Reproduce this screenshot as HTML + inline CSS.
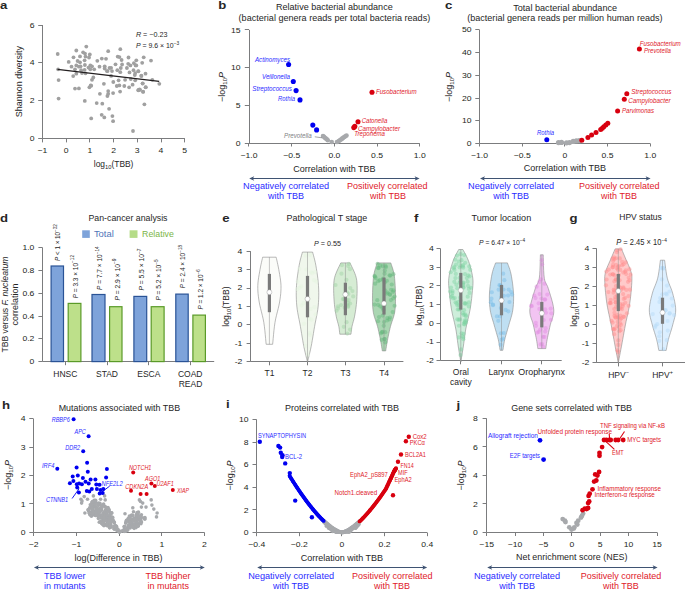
<!DOCTYPE html>
<html><head><meta charset="utf-8"><style>
html,body{margin:0;padding:0;background:#fff;}
svg{display:block;}
svg{font-family:"Liberation Sans", sans-serif;fill:#262626;}
</style></head><body>
<svg width="685" height="589" viewBox="0 0 685 589">
<rect x="0" y="0" width="685" height="589" fill="#fff"/>
<text x="0.00" y="9.30" font-size="11.2" font-weight="bold" textLength="7.35" lengthAdjust="spacingAndGlyphs">a</text>
<line x1="42.50" y1="25.00" x2="42.50" y2="138.20" stroke="#7b7c7e" stroke-width="1.0" />
<line x1="38.20" y1="138.50" x2="42.40" y2="138.50" stroke="#7b7c7e" stroke-width="1.0" />
<text x="34.60" y="140.80" font-size="7.5" text-anchor="end" fill="#231f20" textLength="4.80" lengthAdjust="spacingAndGlyphs">0</text>
<line x1="38.20" y1="100.50" x2="42.40" y2="100.50" stroke="#7b7c7e" stroke-width="1.0" />
<text x="34.60" y="103.07" font-size="7.5" text-anchor="end" fill="#231f20" textLength="4.80" lengthAdjust="spacingAndGlyphs">2</text>
<line x1="38.20" y1="62.50" x2="42.40" y2="62.50" stroke="#7b7c7e" stroke-width="1.0" />
<text x="34.60" y="65.33" font-size="7.5" text-anchor="end" fill="#231f20" textLength="4.80" lengthAdjust="spacingAndGlyphs">4</text>
<line x1="38.20" y1="25.50" x2="42.40" y2="25.50" stroke="#7b7c7e" stroke-width="1.0" />
<text x="34.60" y="27.60" font-size="7.5" text-anchor="end" fill="#231f20" textLength="4.80" lengthAdjust="spacingAndGlyphs">6</text>
<line x1="42.37" y1="138.50" x2="184.75" y2="138.50" stroke="#7b7c7e" stroke-width="1.0" />
<line x1="42.50" y1="138.20" x2="42.50" y2="142.40" stroke="#7b7c7e" stroke-width="1.0" />
<text x="42.37" y="152.60" font-size="7.5" text-anchor="middle" fill="#231f20" textLength="9.83" lengthAdjust="spacingAndGlyphs">−1</text>
<line x1="66.50" y1="138.20" x2="66.50" y2="142.40" stroke="#7b7c7e" stroke-width="1.0" />
<text x="66.10" y="152.60" font-size="7.5" text-anchor="middle" fill="#231f20" textLength="4.80" lengthAdjust="spacingAndGlyphs">0</text>
<line x1="89.50" y1="138.20" x2="89.50" y2="142.40" stroke="#7b7c7e" stroke-width="1.0" />
<text x="89.83" y="152.60" font-size="7.5" text-anchor="middle" fill="#231f20" textLength="4.80" lengthAdjust="spacingAndGlyphs">1</text>
<line x1="113.50" y1="138.20" x2="113.50" y2="142.40" stroke="#7b7c7e" stroke-width="1.0" />
<text x="113.56" y="152.60" font-size="7.5" text-anchor="middle" fill="#231f20" textLength="4.80" lengthAdjust="spacingAndGlyphs">2</text>
<line x1="137.50" y1="138.20" x2="137.50" y2="142.40" stroke="#7b7c7e" stroke-width="1.0" />
<text x="137.29" y="152.60" font-size="7.5" text-anchor="middle" fill="#231f20" textLength="4.80" lengthAdjust="spacingAndGlyphs">3</text>
<line x1="161.50" y1="138.20" x2="161.50" y2="142.40" stroke="#7b7c7e" stroke-width="1.0" />
<text x="161.02" y="152.60" font-size="7.5" text-anchor="middle" fill="#231f20" textLength="4.80" lengthAdjust="spacingAndGlyphs">4</text>
<line x1="184.50" y1="138.20" x2="184.50" y2="142.40" stroke="#7b7c7e" stroke-width="1.0" />
<text x="184.75" y="152.60" font-size="7.5" text-anchor="middle" fill="#231f20" textLength="4.80" lengthAdjust="spacingAndGlyphs">5</text>
<text x="93.80" y="167.40" font-size="9" textLength="39.60" lengthAdjust="spacingAndGlyphs">log<tspan font-size="6.2" dy="1.8">10</tspan><tspan dy="-1.8">(TBB)</tspan></text>
<text x="0" y="0" font-size="9" transform="translate(21.80,81.60) rotate(-90)" text-anchor="middle" textLength="71.30" lengthAdjust="spacingAndGlyphs">Shannon diversity</text>
<text x="135.90" y="36.80" font-size="7.2"><tspan font-style="italic">R</tspan> = −0.23</text>
<text x="135.90" y="47.70" font-size="7.2" textLength="43.30" lengthAdjust="spacingAndGlyphs"><tspan font-style="italic">P</tspan> = 9.6 × 10<tspan font-size="5" dy="-3">−3</tspan></text>
<circle cx="57.70" cy="54.00" r="1.9" fill="#a0a0a0" />
<circle cx="76.30" cy="50.50" r="1.9" fill="#a0a0a0" />
<circle cx="86.30" cy="46.60" r="1.9" fill="#a0a0a0" />
<circle cx="108.20" cy="51.20" r="1.9" fill="#a0a0a0" />
<circle cx="73.50" cy="57.30" r="1.9" fill="#a0a0a0" />
<circle cx="80.00" cy="56.40" r="1.9" fill="#a0a0a0" />
<circle cx="83.10" cy="52.30" r="1.9" fill="#a0a0a0" />
<circle cx="85.00" cy="53.60" r="1.9" fill="#a0a0a0" />
<circle cx="89.80" cy="54.40" r="1.9" fill="#a0a0a0" />
<circle cx="89.00" cy="57.50" r="1.9" fill="#a0a0a0" />
<circle cx="85.50" cy="56.60" r="1.9" fill="#a0a0a0" />
<circle cx="68.70" cy="61.90" r="1.9" fill="#a0a0a0" />
<circle cx="77.60" cy="61.00" r="1.9" fill="#a0a0a0" />
<circle cx="80.00" cy="62.30" r="1.9" fill="#a0a0a0" />
<circle cx="84.60" cy="60.30" r="1.9" fill="#a0a0a0" />
<circle cx="97.30" cy="60.80" r="1.9" fill="#a0a0a0" />
<circle cx="101.80" cy="58.60" r="1.9" fill="#a0a0a0" />
<circle cx="106.00" cy="58.80" r="1.9" fill="#a0a0a0" />
<circle cx="71.50" cy="66.70" r="1.9" fill="#a0a0a0" />
<circle cx="76.30" cy="65.40" r="1.9" fill="#a0a0a0" />
<circle cx="78.90" cy="66.70" r="1.9" fill="#a0a0a0" />
<circle cx="80.60" cy="66.30" r="1.9" fill="#a0a0a0" />
<circle cx="84.90" cy="65.00" r="1.9" fill="#a0a0a0" />
<circle cx="84.60" cy="69.80" r="1.9" fill="#a0a0a0" />
<circle cx="81.10" cy="70.20" r="1.9" fill="#a0a0a0" />
<circle cx="75.00" cy="69.30" r="1.9" fill="#a0a0a0" />
<circle cx="90.30" cy="65.40" r="1.9" fill="#a0a0a0" />
<circle cx="92.00" cy="66.30" r="1.9" fill="#a0a0a0" />
<circle cx="88.50" cy="67.60" r="1.9" fill="#a0a0a0" />
<circle cx="90.30" cy="69.30" r="1.9" fill="#a0a0a0" />
<circle cx="94.20" cy="69.30" r="1.9" fill="#a0a0a0" />
<circle cx="99.50" cy="66.70" r="1.9" fill="#a0a0a0" />
<circle cx="104.70" cy="66.30" r="1.9" fill="#a0a0a0" />
<circle cx="104.70" cy="68.50" r="1.9" fill="#a0a0a0" />
<circle cx="106.90" cy="71.10" r="1.9" fill="#a0a0a0" />
<circle cx="109.50" cy="68.00" r="1.9" fill="#a0a0a0" />
<circle cx="58.10" cy="69.30" r="1.9" fill="#a0a0a0" />
<circle cx="76.30" cy="73.70" r="1.9" fill="#a0a0a0" />
<circle cx="82.00" cy="73.10" r="1.9" fill="#a0a0a0" />
<circle cx="85.50" cy="73.30" r="1.9" fill="#a0a0a0" />
<circle cx="73.20" cy="76.10" r="1.9" fill="#a0a0a0" />
<circle cx="58.60" cy="80.10" r="1.9" fill="#a0a0a0" />
<circle cx="93.30" cy="77.50" r="1.9" fill="#a0a0a0" />
<circle cx="92.00" cy="79.80" r="1.9" fill="#a0a0a0" />
<circle cx="103.90" cy="83.80" r="1.9" fill="#a0a0a0" />
<circle cx="90.70" cy="85.50" r="1.9" fill="#a0a0a0" />
<circle cx="89.40" cy="87.30" r="1.9" fill="#a0a0a0" />
<circle cx="75.00" cy="88.60" r="1.9" fill="#a0a0a0" />
<circle cx="78.90" cy="88.40" r="1.9" fill="#a0a0a0" />
<circle cx="120.30" cy="49.20" r="1.9" fill="#a0a0a0" />
<circle cx="117.70" cy="56.60" r="1.9" fill="#a0a0a0" />
<circle cx="119.40" cy="57.10" r="1.9" fill="#a0a0a0" />
<circle cx="121.60" cy="60.00" r="1.9" fill="#a0a0a0" />
<circle cx="128.50" cy="57.50" r="1.9" fill="#a0a0a0" />
<circle cx="136.30" cy="60.30" r="1.9" fill="#a0a0a0" />
<circle cx="143.70" cy="57.30" r="1.9" fill="#a0a0a0" />
<circle cx="151.00" cy="60.60" r="1.9" fill="#a0a0a0" />
<circle cx="115.50" cy="64.30" r="1.9" fill="#a0a0a0" />
<circle cx="122.10" cy="64.50" r="1.9" fill="#a0a0a0" />
<circle cx="120.80" cy="68.00" r="1.9" fill="#a0a0a0" />
<circle cx="117.30" cy="70.20" r="1.9" fill="#a0a0a0" />
<circle cx="120.30" cy="72.20" r="1.9" fill="#a0a0a0" />
<circle cx="128.20" cy="63.80" r="1.9" fill="#a0a0a0" />
<circle cx="130.40" cy="65.40" r="1.9" fill="#a0a0a0" />
<circle cx="126.90" cy="68.00" r="1.9" fill="#a0a0a0" />
<circle cx="133.90" cy="63.20" r="1.9" fill="#a0a0a0" />
<circle cx="135.60" cy="65.40" r="1.9" fill="#a0a0a0" />
<circle cx="142.20" cy="62.80" r="1.9" fill="#a0a0a0" />
<circle cx="133.50" cy="70.20" r="1.9" fill="#a0a0a0" />
<circle cx="138.30" cy="71.10" r="1.9" fill="#a0a0a0" />
<circle cx="135.20" cy="73.10" r="1.9" fill="#a0a0a0" />
<circle cx="129.50" cy="72.40" r="1.9" fill="#a0a0a0" />
<circle cx="134.80" cy="75.00" r="1.9" fill="#a0a0a0" />
<circle cx="141.30" cy="75.70" r="1.9" fill="#a0a0a0" />
<circle cx="145.50" cy="73.70" r="1.9" fill="#a0a0a0" />
<circle cx="111.10" cy="67.80" r="1.9" fill="#a0a0a0" />
<circle cx="112.00" cy="71.10" r="1.9" fill="#a0a0a0" />
<circle cx="107.60" cy="71.10" r="1.9" fill="#a0a0a0" />
<circle cx="111.10" cy="75.90" r="1.9" fill="#a0a0a0" />
<circle cx="113.30" cy="82.00" r="1.9" fill="#a0a0a0" />
<circle cx="118.60" cy="80.30" r="1.9" fill="#a0a0a0" />
<circle cx="125.10" cy="79.80" r="1.9" fill="#a0a0a0" />
<circle cx="130.80" cy="79.00" r="1.9" fill="#a0a0a0" />
<circle cx="135.20" cy="80.30" r="1.9" fill="#a0a0a0" />
<circle cx="142.70" cy="83.30" r="1.9" fill="#a0a0a0" />
<circle cx="152.30" cy="79.80" r="1.9" fill="#a0a0a0" />
<circle cx="159.30" cy="83.80" r="1.9" fill="#a0a0a0" />
<circle cx="116.80" cy="86.00" r="1.9" fill="#a0a0a0" />
<circle cx="119.40" cy="85.40" r="1.9" fill="#a0a0a0" />
<circle cx="124.30" cy="86.00" r="1.9" fill="#a0a0a0" />
<circle cx="129.10" cy="87.30" r="1.9" fill="#a0a0a0" />
<circle cx="132.60" cy="84.70" r="1.9" fill="#a0a0a0" />
<circle cx="145.70" cy="87.30" r="1.9" fill="#a0a0a0" />
<circle cx="139.60" cy="89.50" r="1.9" fill="#a0a0a0" />
<circle cx="91.20" cy="85.70" r="1.9" fill="#a0a0a0" />
<circle cx="99.90" cy="93.80" r="1.9" fill="#a0a0a0" />
<circle cx="108.20" cy="91.10" r="1.9" fill="#a0a0a0" />
<circle cx="108.20" cy="93.80" r="1.9" fill="#a0a0a0" />
<circle cx="107.40" cy="96.00" r="1.9" fill="#a0a0a0" />
<circle cx="58.60" cy="98.60" r="1.9" fill="#a0a0a0" />
<circle cx="84.80" cy="100.90" r="1.9" fill="#a0a0a0" />
<circle cx="96.70" cy="103.10" r="1.9" fill="#a0a0a0" />
<circle cx="102.30" cy="103.70" r="1.9" fill="#a0a0a0" />
<circle cx="109.10" cy="108.80" r="1.9" fill="#a0a0a0" />
<circle cx="101.70" cy="114.80" r="1.9" fill="#a0a0a0" />
<circle cx="104.30" cy="117.40" r="1.9" fill="#a0a0a0" />
<circle cx="91.20" cy="118.40" r="1.9" fill="#a0a0a0" />
<circle cx="113.10" cy="93.10" r="1.9" fill="#a0a0a0" />
<circle cx="120.10" cy="91.60" r="1.9" fill="#a0a0a0" />
<circle cx="138.30" cy="90.30" r="1.9" fill="#a0a0a0" />
<circle cx="140.00" cy="89.80" r="1.9" fill="#a0a0a0" />
<circle cx="143.10" cy="91.80" r="1.9" fill="#a0a0a0" />
<circle cx="145.70" cy="87.20" r="1.9" fill="#a0a0a0" />
<circle cx="144.40" cy="104.30" r="1.9" fill="#a0a0a0" />
<circle cx="112.40" cy="116.10" r="1.9" fill="#a0a0a0" />
<circle cx="113.10" cy="121.20" r="1.9" fill="#a0a0a0" />
<circle cx="133.00" cy="131.00" r="1.9" fill="#a0a0a0" />
<circle cx="136.30" cy="65.40" r="1.9" fill="#a0a0a0" />
<circle cx="138.40" cy="71.30" r="1.9" fill="#a0a0a0" />
<circle cx="141.40" cy="76.00" r="1.9" fill="#a0a0a0" />
<circle cx="142.60" cy="83.60" r="1.9" fill="#a0a0a0" />
<circle cx="138.40" cy="90.00" r="1.9" fill="#a0a0a0" />
<circle cx="143.10" cy="91.70" r="1.9" fill="#a0a0a0" />
<line x1="57.50" y1="69.30" x2="159.20" y2="81.40" stroke="#231f20" stroke-width="1.25" />
<text x="218.30" y="9.10" font-size="11.2" font-weight="bold" textLength="8.07" lengthAdjust="spacingAndGlyphs">b</text>
<text x="276.00" y="10.40" font-size="9" textLength="116.70" lengthAdjust="spacingAndGlyphs">Relative bacterial abundance</text>
<text x="238.60" y="21.00" font-size="9" textLength="191.60" lengthAdjust="spacingAndGlyphs">(bacterial genera reads per total bacteria reads)</text>
<line x1="249.50" y1="29.90" x2="249.50" y2="143.50" stroke="#7b7c7e" stroke-width="1.0" />
<line x1="244.80" y1="143.50" x2="249.00" y2="143.50" stroke="#7b7c7e" stroke-width="1.0" />
<text x="240.60" y="146.10" font-size="7.5" text-anchor="end" fill="#231f20" textLength="4.80" lengthAdjust="spacingAndGlyphs">0</text>
<line x1="244.80" y1="105.50" x2="249.00" y2="105.50" stroke="#7b7c7e" stroke-width="1.0" />
<text x="240.60" y="108.23" font-size="7.5" text-anchor="end" fill="#231f20" textLength="4.80" lengthAdjust="spacingAndGlyphs">5</text>
<line x1="244.80" y1="67.50" x2="249.00" y2="67.50" stroke="#7b7c7e" stroke-width="1.0" />
<text x="240.60" y="70.37" font-size="7.5" text-anchor="end" fill="#231f20" textLength="9.59" lengthAdjust="spacingAndGlyphs">10</text>
<line x1="244.80" y1="29.50" x2="249.00" y2="29.50" stroke="#7b7c7e" stroke-width="1.0" />
<text x="240.60" y="32.50" font-size="7.5" text-anchor="end" fill="#231f20" textLength="9.59" lengthAdjust="spacingAndGlyphs">15</text>
<line x1="249.00" y1="143.50" x2="419.80" y2="143.50" stroke="#7b7c7e" stroke-width="1.0" />
<line x1="248.50" y1="143.50" x2="248.50" y2="146.50" stroke="#7b7c7e" stroke-width="1.0" />
<text x="249.00" y="157.80" font-size="7.5" text-anchor="middle" fill="#231f20" textLength="17.03" lengthAdjust="spacingAndGlyphs">−1.0</text>
<line x1="291.50" y1="143.50" x2="291.50" y2="146.50" stroke="#7b7c7e" stroke-width="1.0" />
<text x="291.70" y="157.80" font-size="7.5" text-anchor="middle" fill="#231f20" textLength="17.03" lengthAdjust="spacingAndGlyphs">−0.5</text>
<line x1="334.50" y1="143.50" x2="334.50" y2="146.50" stroke="#7b7c7e" stroke-width="1.0" />
<text x="334.40" y="157.80" font-size="7.5" text-anchor="middle" fill="#231f20" textLength="11.99" lengthAdjust="spacingAndGlyphs">0.0</text>
<line x1="377.50" y1="143.50" x2="377.50" y2="146.50" stroke="#7b7c7e" stroke-width="1.0" />
<text x="377.10" y="157.80" font-size="7.5" text-anchor="middle" fill="#231f20" textLength="11.99" lengthAdjust="spacingAndGlyphs">0.5</text>
<line x1="419.50" y1="143.50" x2="419.50" y2="146.50" stroke="#7b7c7e" stroke-width="1.0" />
<text x="419.80" y="157.80" font-size="7.5" text-anchor="middle" fill="#231f20" textLength="11.99" lengthAdjust="spacingAndGlyphs">1.0</text>
<text x="334.40" y="171.60" font-size="9" text-anchor="middle">Correlation with TBB</text>
<text x="0" y="0" font-size="9" transform="translate(225.30,87.00) rotate(-90)" text-anchor="middle">−log<tspan font-size="6.2" dy="1.8">10</tspan><tspan dy="-1.8" font-style="italic">P</tspan></text>
<line x1="252.20" y1="178.50" x2="416.60" y2="178.50" stroke="#3f5373" stroke-width="1.15" />
<path d="M249.20,178.50 L254.20,176.30 L252.95,178.50 L254.20,180.70 Z" fill="#3f5373" />
<path d="M419.60,178.50 L414.60,176.30 L415.85,178.50 L414.60,180.70 Z" fill="#3f5373" />
<text x="286.10" y="189.00" font-size="9" text-anchor="middle" fill="#2b2bff" textLength="86.00" lengthAdjust="spacingAndGlyphs">Negatively correlated</text>
<text x="286.00" y="199.00" font-size="9" text-anchor="middle" fill="#2b2bff">with TBB</text>
<text x="387.20" y="189.00" font-size="9" text-anchor="middle" fill="#e0202a">Positively correlated</text>
<text x="388.00" y="199.00" font-size="9" text-anchor="middle" fill="#e0202a">with TBB</text>
<circle cx="323.00" cy="136.00" r="2.3" fill="#a7a9ac" />
<circle cx="323.96" cy="136.84" r="2.3" fill="#a7a9ac" />
<circle cx="324.92" cy="137.68" r="2.3" fill="#a7a9ac" />
<circle cx="325.88" cy="138.52" r="2.3" fill="#a7a9ac" />
<circle cx="326.84" cy="139.36" r="2.3" fill="#a7a9ac" />
<circle cx="327.80" cy="140.20" r="2.3" fill="#a7a9ac" />
<circle cx="331.70" cy="142.00" r="2.3" fill="#a7a9ac" />
<circle cx="337.00" cy="142.00" r="2.3" fill="#a7a9ac" />
<circle cx="338.80" cy="141.00" r="2.3" fill="#a7a9ac" />
<circle cx="339.90" cy="140.21" r="2.3" fill="#a7a9ac" />
<circle cx="341.00" cy="139.43" r="2.3" fill="#a7a9ac" />
<circle cx="342.10" cy="138.64" r="2.3" fill="#a7a9ac" />
<circle cx="343.20" cy="137.86" r="2.3" fill="#a7a9ac" />
<circle cx="344.30" cy="137.07" r="2.3" fill="#a7a9ac" />
<circle cx="345.40" cy="136.29" r="2.3" fill="#a7a9ac" />
<circle cx="346.50" cy="135.50" r="2.3" fill="#a7a9ac" />
<line x1="314.80" y1="136.80" x2="322.00" y2="137.80" stroke="#808080" stroke-width="0.7" />
<text x="284.00" y="138.00" font-size="6.3" fill="#808285" font-style="italic" textLength="27.70" lengthAdjust="spacingAndGlyphs">Prevotella</text>
<circle cx="288.60" cy="64.50" r="2.55" fill="#0000f0" />
<circle cx="293.30" cy="81.50" r="2.55" fill="#0000f0" />
<circle cx="296.10" cy="90.60" r="2.55" fill="#0000f0" />
<circle cx="300.00" cy="99.90" r="2.55" fill="#0000f0" />
<circle cx="312.80" cy="125.10" r="2.55" fill="#0000f0" />
<circle cx="316.60" cy="129.90" r="2.55" fill="#0000f0" />
<text x="255.00" y="61.80" font-size="6.3" fill="#2b2bff" font-style="italic" textLength="35.00" lengthAdjust="spacingAndGlyphs">Actinomyces</text>
<text x="262.00" y="78.60" font-size="6.3" fill="#2b2bff" font-style="italic" textLength="28.00" lengthAdjust="spacingAndGlyphs">Veillonella</text>
<text x="252.30" y="91.20" font-size="6.3" fill="#2b2bff" font-style="italic" textLength="39.70" lengthAdjust="spacingAndGlyphs">Streptococcus</text>
<text x="278.00" y="100.60" font-size="6.3" fill="#2b2bff" font-style="italic" textLength="17.00" lengthAdjust="spacingAndGlyphs">Rothia</text>
<circle cx="372.00" cy="92.20" r="2.55" fill="#d8000f" />
<circle cx="358.00" cy="121.70" r="2.55" fill="#d8000f" />
<circle cx="354.80" cy="126.40" r="2.55" fill="#d8000f" />
<circle cx="353.80" cy="127.60" r="2.55" fill="#d8000f" />
<text x="375.90" y="94.40" font-size="6.3" fill="#e0202a" font-style="italic" textLength="40.80" lengthAdjust="spacingAndGlyphs">Fusobacterium</text>
<text x="361.70" y="122.60" font-size="6.3" fill="#e0202a" font-style="italic" textLength="25.60" lengthAdjust="spacingAndGlyphs">Catonella</text>
<text x="358.00" y="130.50" font-size="6.3" fill="#e0202a" font-style="italic" textLength="42.00" lengthAdjust="spacingAndGlyphs">Campylobacter</text>
<text x="354.30" y="136.40" font-size="6.3" fill="#e0202a" font-style="italic" textLength="30.70" lengthAdjust="spacingAndGlyphs">Treponema</text>
<text x="445.00" y="9.20" font-size="11.2" font-weight="bold" textLength="7.35" lengthAdjust="spacingAndGlyphs">c</text>
<text x="513.20" y="10.90" font-size="9" textLength="103.90" lengthAdjust="spacingAndGlyphs">Total bacterial abundance</text>
<text x="467.20" y="21.40" font-size="9" textLength="195.40" lengthAdjust="spacingAndGlyphs">(bacterial genera reads per million human reads)</text>
<line x1="479.50" y1="29.80" x2="479.50" y2="143.50" stroke="#7b7c7e" stroke-width="1.0" />
<line x1="475.30" y1="143.50" x2="479.50" y2="143.50" stroke="#7b7c7e" stroke-width="1.0" />
<text x="471.60" y="146.10" font-size="7.5" text-anchor="end" fill="#231f20" textLength="4.80" lengthAdjust="spacingAndGlyphs">0</text>
<line x1="475.30" y1="120.50" x2="479.50" y2="120.50" stroke="#7b7c7e" stroke-width="1.0" />
<text x="471.60" y="123.36" font-size="7.5" text-anchor="end" fill="#231f20" textLength="9.59" lengthAdjust="spacingAndGlyphs">10</text>
<line x1="475.30" y1="98.50" x2="479.50" y2="98.50" stroke="#7b7c7e" stroke-width="1.0" />
<text x="471.60" y="100.62" font-size="7.5" text-anchor="end" fill="#231f20" textLength="9.59" lengthAdjust="spacingAndGlyphs">20</text>
<line x1="475.30" y1="75.50" x2="479.50" y2="75.50" stroke="#7b7c7e" stroke-width="1.0" />
<text x="471.60" y="77.88" font-size="7.5" text-anchor="end" fill="#231f20" textLength="9.59" lengthAdjust="spacingAndGlyphs">30</text>
<line x1="475.30" y1="52.50" x2="479.50" y2="52.50" stroke="#7b7c7e" stroke-width="1.0" />
<text x="471.60" y="55.14" font-size="7.5" text-anchor="end" fill="#231f20" textLength="9.59" lengthAdjust="spacingAndGlyphs">40</text>
<line x1="475.30" y1="29.50" x2="479.50" y2="29.50" stroke="#7b7c7e" stroke-width="1.0" />
<text x="471.60" y="32.40" font-size="7.5" text-anchor="end" fill="#231f20" textLength="9.59" lengthAdjust="spacingAndGlyphs">50</text>
<line x1="479.55" y1="143.50" x2="650.25" y2="143.50" stroke="#7b7c7e" stroke-width="1.0" />
<line x1="479.50" y1="143.50" x2="479.50" y2="146.50" stroke="#7b7c7e" stroke-width="1.0" />
<text x="479.55" y="157.80" font-size="7.5" text-anchor="middle" fill="#231f20" textLength="17.03" lengthAdjust="spacingAndGlyphs">−1.0</text>
<line x1="522.50" y1="143.50" x2="522.50" y2="146.50" stroke="#7b7c7e" stroke-width="1.0" />
<text x="522.23" y="157.80" font-size="7.5" text-anchor="middle" fill="#231f20" textLength="17.03" lengthAdjust="spacingAndGlyphs">−0.5</text>
<line x1="564.50" y1="143.50" x2="564.50" y2="146.50" stroke="#7b7c7e" stroke-width="1.0" />
<text x="564.90" y="157.80" font-size="7.5" text-anchor="middle" fill="#231f20" textLength="4.80" lengthAdjust="spacingAndGlyphs">0</text>
<line x1="607.50" y1="143.50" x2="607.50" y2="146.50" stroke="#7b7c7e" stroke-width="1.0" />
<text x="607.57" y="157.80" font-size="7.5" text-anchor="middle" fill="#231f20" textLength="11.99" lengthAdjust="spacingAndGlyphs">0.5</text>
<line x1="650.50" y1="143.50" x2="650.50" y2="146.50" stroke="#7b7c7e" stroke-width="1.0" />
<text x="650.25" y="157.80" font-size="7.5" text-anchor="middle" fill="#231f20" textLength="11.99" lengthAdjust="spacingAndGlyphs">1.0</text>
<text x="564.90" y="171.00" font-size="9" text-anchor="middle">Correlation with TBB</text>
<text x="0" y="0" font-size="9" transform="translate(451.90,87.00) rotate(-90)" text-anchor="middle">−log<tspan font-size="6.2" dy="1.8">10</tspan><tspan dy="-1.8" font-style="italic">P</tspan></text>
<line x1="483.00" y1="178.50" x2="647.60" y2="178.50" stroke="#3f5373" stroke-width="1.15" />
<path d="M480.00,178.50 L485.00,176.30 L483.75,178.50 L485.00,180.70 Z" fill="#3f5373" />
<path d="M650.60,178.50 L645.60,176.30 L646.85,178.50 L645.60,180.70 Z" fill="#3f5373" />
<text x="511.10" y="189.00" font-size="9" text-anchor="middle" fill="#2b2bff" textLength="86.00" lengthAdjust="spacingAndGlyphs">Negatively correlated</text>
<text x="511.10" y="199.00" font-size="9" text-anchor="middle" fill="#2b2bff">with TBB</text>
<text x="619.20" y="189.00" font-size="9" text-anchor="middle" fill="#e0202a">Positively correlated</text>
<text x="619.00" y="199.00" font-size="9" text-anchor="middle" fill="#e0202a">with TBB</text>
<circle cx="558.50" cy="142.60" r="2.6" fill="#a7a9ac" />
<circle cx="561.50" cy="142.40" r="2.6" fill="#a7a9ac" />
<circle cx="566.50" cy="142.80" r="2.6" fill="#a7a9ac" />
<circle cx="569.50" cy="142.60" r="2.6" fill="#a7a9ac" />
<circle cx="573.20" cy="141.40" r="2.6" fill="#a7a9ac" />
<circle cx="576.30" cy="140.90" r="2.6" fill="#a7a9ac" />
<circle cx="579.30" cy="140.70" r="2.6" fill="#a7a9ac" />
<circle cx="546.80" cy="139.80" r="2.5" fill="#0000f0" />
<text x="537.00" y="134.80" font-size="6.3" fill="#2b2bff" font-style="italic" textLength="17.00" lengthAdjust="spacingAndGlyphs">Rothia</text>
<circle cx="581.80" cy="140.30" r="2.5" fill="#d8000f" />
<circle cx="587.90" cy="137.60" r="2.5" fill="#d8000f" />
<circle cx="591.60" cy="135.00" r="2.5" fill="#d8000f" />
<circle cx="596.00" cy="132.50" r="2.5" fill="#d8000f" />
<circle cx="600.70" cy="129.50" r="2.5" fill="#d8000f" />
<circle cx="602.30" cy="128.20" r="2.5" fill="#d8000f" />
<circle cx="603.80" cy="126.80" r="2.5" fill="#d8000f" />
<circle cx="605.80" cy="125.00" r="2.5" fill="#d8000f" />
<circle cx="607.80" cy="123.20" r="2.5" fill="#d8000f" />
<circle cx="617.60" cy="111.00" r="2.5" fill="#d8000f" />
<circle cx="624.30" cy="99.30" r="2.5" fill="#d8000f" />
<circle cx="626.80" cy="93.80" r="2.5" fill="#d8000f" />
<circle cx="639.40" cy="48.90" r="2.5" fill="#d8000f" />
<text x="622.00" y="113.30" font-size="6.3" fill="#e0202a" font-style="italic" textLength="32.00" lengthAdjust="spacingAndGlyphs">Parvimonas</text>
<text x="628.20" y="102.60" font-size="6.3" fill="#e0202a" font-style="italic" textLength="42.30" lengthAdjust="spacingAndGlyphs">Campylobacter</text>
<text x="631.30" y="94.40" font-size="6.3" fill="#e0202a" font-style="italic" textLength="40.10" lengthAdjust="spacingAndGlyphs">Streptococcus</text>
<text x="639.70" y="45.60" font-size="6.3" fill="#e0202a" font-style="italic" textLength="41.10" lengthAdjust="spacingAndGlyphs">Fusobacterium</text>
<text x="644.00" y="52.70" font-size="6.3" fill="#e0202a" font-style="italic" textLength="27.00" lengthAdjust="spacingAndGlyphs">Prevotella</text>
<text x="0.00" y="221.90" font-size="11.2" font-weight="bold" textLength="8.07" lengthAdjust="spacingAndGlyphs">d</text>
<text x="88.50" y="220.70" font-size="9" textLength="79.00" lengthAdjust="spacingAndGlyphs">Pan-cancer analysis</text>
<rect x="82.20" y="230.30" width="7.60" height="7.60" fill="#7ea3da" />
<text x="93.90" y="237.30" font-size="9" fill="#4f74b8" textLength="19.90" lengthAdjust="spacingAndGlyphs">Total</text>
<rect x="129.60" y="230.30" width="7.90" height="7.60" fill="#b5dc88" />
<text x="142.10" y="237.30" font-size="9" fill="#7bb547" textLength="31.80" lengthAdjust="spacingAndGlyphs">Relative</text>
<line x1="42.50" y1="247.70" x2="42.50" y2="361.60" stroke="#7b7c7e" stroke-width="1.0" />
<line x1="38.40" y1="361.50" x2="42.60" y2="361.50" stroke="#7b7c7e" stroke-width="1.0" />
<text x="34.40" y="364.20" font-size="7.5" text-anchor="end" fill="#231f20" textLength="4.80" lengthAdjust="spacingAndGlyphs">0</text>
<line x1="38.40" y1="338.50" x2="42.60" y2="338.50" stroke="#7b7c7e" stroke-width="1.0" />
<text x="34.40" y="341.42" font-size="7.5" text-anchor="end" fill="#231f20" textLength="11.99" lengthAdjust="spacingAndGlyphs">0.2</text>
<line x1="38.40" y1="316.50" x2="42.60" y2="316.50" stroke="#7b7c7e" stroke-width="1.0" />
<text x="34.40" y="318.64" font-size="7.5" text-anchor="end" fill="#231f20" textLength="11.99" lengthAdjust="spacingAndGlyphs">0.4</text>
<line x1="38.40" y1="293.50" x2="42.60" y2="293.50" stroke="#7b7c7e" stroke-width="1.0" />
<text x="34.40" y="295.86" font-size="7.5" text-anchor="end" fill="#231f20" textLength="11.99" lengthAdjust="spacingAndGlyphs">0.6</text>
<line x1="38.40" y1="270.50" x2="42.60" y2="270.50" stroke="#7b7c7e" stroke-width="1.0" />
<text x="34.40" y="273.08" font-size="7.5" text-anchor="end" fill="#231f20" textLength="11.99" lengthAdjust="spacingAndGlyphs">0.8</text>
<line x1="38.40" y1="247.50" x2="42.60" y2="247.50" stroke="#7b7c7e" stroke-width="1.0" />
<text x="34.40" y="250.30" font-size="7.5" text-anchor="end" fill="#231f20" textLength="11.99" lengthAdjust="spacingAndGlyphs">1.0</text>
<line x1="42.60" y1="361.50" x2="214.20" y2="361.50" stroke="#7b7c7e" stroke-width="1.0" />
<line x1="65.50" y1="361.60" x2="65.50" y2="365.20" stroke="#7b7c7e" stroke-width="1.0" />
<line x1="107.50" y1="361.60" x2="107.50" y2="365.20" stroke="#7b7c7e" stroke-width="1.0" />
<line x1="148.50" y1="361.60" x2="148.50" y2="365.20" stroke="#7b7c7e" stroke-width="1.0" />
<line x1="190.50" y1="361.60" x2="190.50" y2="365.20" stroke="#7b7c7e" stroke-width="1.0" />
<rect x="51.10" y="266.00" width="12.40" height="95.60" fill="#7ea3da" stroke="#2a5396" stroke-width="1.2" />
<rect x="68.20" y="303.40" width="12.70" height="58.20" fill="#bde08a" stroke="#5a9a28" stroke-width="1.2" />
<rect x="92.00" y="294.50" width="13.00" height="67.10" fill="#7ea3da" stroke="#2a5396" stroke-width="1.2" />
<rect x="109.60" y="306.70" width="12.40" height="54.90" fill="#bde08a" stroke="#5a9a28" stroke-width="1.2" />
<rect x="133.90" y="296.40" width="12.80" height="65.20" fill="#7ea3da" stroke="#2a5396" stroke-width="1.2" />
<rect x="151.20" y="306.70" width="12.90" height="54.90" fill="#bde08a" stroke="#5a9a28" stroke-width="1.2" />
<rect x="175.80" y="294.10" width="12.40" height="67.50" fill="#7ea3da" stroke="#2a5396" stroke-width="1.2" />
<rect x="192.90" y="315.10" width="12.50" height="46.50" fill="#bde08a" stroke="#5a9a28" stroke-width="1.2" />
<text x="65.30" y="377.10" font-size="8.5" text-anchor="middle">HNSC</text>
<text x="107.00" y="377.10" font-size="8.5" text-anchor="middle">STAD</text>
<text x="148.80" y="377.10" font-size="8.5" text-anchor="middle">ESCA</text>
<text x="190.20" y="377.10" font-size="8.5" text-anchor="middle">COAD</text>
<text x="190.50" y="386.60" font-size="8.5" text-anchor="middle">READ</text>
<text x="0" y="0" font-size="9" transform="translate(7.60,304.60) rotate(-90)" text-anchor="middle" textLength="96.00" lengthAdjust="spacingAndGlyphs">TBB versus <tspan font-style="italic">F. nucleatum</tspan></text>
<text x="0" y="0" font-size="9" transform="translate(18.10,304.60) rotate(-90)" text-anchor="middle">correlation</text>
<text x="0" y="0" font-size="6.4" transform="translate(59.90,260.90) rotate(-90)" textLength="36.70" lengthAdjust="spacingAndGlyphs"><tspan font-style="italic">P</tspan> < 1 × 10<tspan font-size="4.6" dy="-3.2">−32</tspan></text>
<text x="0" y="0" font-size="6.4" transform="translate(77.50,298.30) rotate(-90)" textLength="43.30" lengthAdjust="spacingAndGlyphs"><tspan font-style="italic">P</tspan> = 3.3 × 10<tspan font-size="4.6" dy="-3.2">−12</tspan></text>
<text x="0" y="0" font-size="6.4" transform="translate(101.90,289.90) rotate(-90)" textLength="43.60" lengthAdjust="spacingAndGlyphs"><tspan font-style="italic">P</tspan> = 7.7 × 10<tspan font-size="4.6" dy="-3.2">−14</tspan></text>
<text x="0" y="0" font-size="6.4" transform="translate(119.50,300.60) rotate(-90)" textLength="42.00" lengthAdjust="spacingAndGlyphs"><tspan font-style="italic">P</tspan> = 2.9 × 10<tspan font-size="4.6" dy="-3.2">−9</tspan></text>
<text x="0" y="0" font-size="6.4" transform="translate(143.70,290.60) rotate(-90)" textLength="42.00" lengthAdjust="spacingAndGlyphs"><tspan font-style="italic">P</tspan> = 5.5 × 10<tspan font-size="4.6" dy="-3.2">−7</tspan></text>
<text x="0" y="0" font-size="6.4" transform="translate(161.30,300.60) rotate(-90)" textLength="41.30" lengthAdjust="spacingAndGlyphs"><tspan font-style="italic">P</tspan> = 5.2 × 10<tspan font-size="4.6" dy="-3.2">−5</tspan></text>
<text x="0" y="0" font-size="6.4" transform="translate(185.00,288.30) rotate(-90)" textLength="43.50" lengthAdjust="spacingAndGlyphs"><tspan font-style="italic">P</tspan> = 2.4 × 10<tspan font-size="4.6" dy="-3.2">−18</tspan></text>
<text x="0" y="0" font-size="6.4" transform="translate(203.30,309.50) rotate(-90)" textLength="40.30" lengthAdjust="spacingAndGlyphs"><tspan font-style="italic">P</tspan> = 1.2 × 10<tspan font-size="4.6" dy="-3.2">−6</tspan></text>
<text x="222.30" y="222.00" font-size="11.2" font-weight="bold" textLength="7.35" lengthAdjust="spacingAndGlyphs">e</text>
<text x="286.60" y="220.60" font-size="9" textLength="80.70" lengthAdjust="spacingAndGlyphs">Pathological T stage</text>
<text x="314.00" y="246.40" font-size="7.5" textLength="27.00" lengthAdjust="spacingAndGlyphs"><tspan font-style="italic">P</tspan> = 0.55</text>
<line x1="250.50" y1="251.20" x2="250.50" y2="361.70" stroke="#7b7c7e" stroke-width="1.0" />
<line x1="246.60" y1="361.50" x2="250.60" y2="361.50" stroke="#7b7c7e" stroke-width="1.0" />
<text x="242.40" y="364.00" font-size="7.5" text-anchor="end" fill="#231f20" textLength="7.67" lengthAdjust="spacingAndGlyphs">-2</text>
<line x1="246.60" y1="343.50" x2="250.60" y2="343.50" stroke="#7b7c7e" stroke-width="1.0" />
<text x="242.40" y="345.58" font-size="7.5" text-anchor="end" fill="#231f20" textLength="7.67" lengthAdjust="spacingAndGlyphs">-1</text>
<line x1="246.60" y1="324.50" x2="250.60" y2="324.50" stroke="#7b7c7e" stroke-width="1.0" />
<text x="242.40" y="327.17" font-size="7.5" text-anchor="end" fill="#231f20" textLength="4.80" lengthAdjust="spacingAndGlyphs">0</text>
<line x1="246.60" y1="306.50" x2="250.60" y2="306.50" stroke="#7b7c7e" stroke-width="1.0" />
<text x="242.40" y="308.75" font-size="7.5" text-anchor="end" fill="#231f20" textLength="4.80" lengthAdjust="spacingAndGlyphs">1</text>
<line x1="246.60" y1="288.50" x2="250.60" y2="288.50" stroke="#7b7c7e" stroke-width="1.0" />
<text x="242.40" y="290.33" font-size="7.5" text-anchor="end" fill="#231f20" textLength="4.80" lengthAdjust="spacingAndGlyphs">2</text>
<line x1="246.60" y1="269.50" x2="250.60" y2="269.50" stroke="#7b7c7e" stroke-width="1.0" />
<text x="242.40" y="271.92" font-size="7.5" text-anchor="end" fill="#231f20" textLength="4.80" lengthAdjust="spacingAndGlyphs">3</text>
<line x1="246.60" y1="251.50" x2="250.60" y2="251.50" stroke="#7b7c7e" stroke-width="1.0" />
<text x="242.40" y="253.50" font-size="7.5" text-anchor="end" fill="#231f20" textLength="4.80" lengthAdjust="spacingAndGlyphs">4</text>
<line x1="250.60" y1="361.50" x2="403.40" y2="361.50" stroke="#7b7c7e" stroke-width="1.0" />
<line x1="269.50" y1="361.70" x2="269.50" y2="365.30" stroke="#7b7c7e" stroke-width="1.0" />
<line x1="307.50" y1="361.70" x2="307.50" y2="365.30" stroke="#7b7c7e" stroke-width="1.0" />
<line x1="345.50" y1="361.70" x2="345.50" y2="365.30" stroke="#7b7c7e" stroke-width="1.0" />
<line x1="384.50" y1="361.70" x2="384.50" y2="365.30" stroke="#7b7c7e" stroke-width="1.0" />
<text x="0" y="0" font-size="9" transform="translate(229.40,306.60) rotate(-90)" text-anchor="middle" textLength="40.20" lengthAdjust="spacingAndGlyphs">log<tspan font-size="6.2" dy="1.8">10</tspan><tspan dy="-1.8">(TBB)</tspan></text>
<text x="269.40" y="376.00" font-size="8.5" text-anchor="middle">T1</text>
<text x="307.50" y="376.00" font-size="8.5" text-anchor="middle">T2</text>
<text x="345.40" y="376.00" font-size="8.5" text-anchor="middle">T3</text>
<text x="384.10" y="376.00" font-size="8.5" text-anchor="middle">T4</text>
<path d="M276.15,257.20 L276.44,258.48 L276.84,260.21 L277.31,262.28 L277.81,264.58 L278.31,266.99 L278.75,269.40 L279.19,271.88 L279.66,274.53 L280.12,277.29 L280.53,280.11 L280.84,282.94 L281.00,285.70 L281.01,288.37 L280.92,290.98 L280.73,293.59 L280.44,296.26 L280.06,299.05 L279.60,302.00 L278.99,305.15 L278.22,308.44 L277.36,311.85 L276.49,315.34 L275.67,318.87 L275.00,322.40 L274.45,326.22 L273.96,330.40 L273.54,334.62 L273.18,338.57 L272.88,341.90 L272.65,344.30 L266.15,344.30 L265.92,341.90 L265.62,338.57 L265.26,334.62 L264.84,330.40 L264.35,326.22 L263.80,322.40 L263.13,318.87 L262.31,315.34 L261.44,311.85 L260.58,308.44 L259.81,305.15 L259.20,302.00 L258.74,299.05 L258.36,296.26 L258.07,293.59 L257.88,290.98 L257.79,288.37 L257.80,285.70 L257.96,282.94 L258.27,280.11 L258.67,277.29 L259.14,274.53 L259.61,271.88 L260.05,269.40 L260.49,266.99 L260.99,264.58 L261.49,262.28 L261.96,260.21 L262.36,258.48 L262.65,257.20 Z" fill="#fbfcf9" stroke="#8c8c8c" stroke-width="0.6" />
<line x1="269.40" y1="257.20" x2="269.40" y2="344.30" stroke="#8c8c8c" stroke-width="0.5" />
<rect x="267.80" y="273.90" width="3.20" height="38.30" fill="#7a7a7a" />
<circle cx="269.40" cy="292.20" r="2.5" fill="#ffffff" stroke="#8a8a8a" stroke-width="0.4"/>
<path d="M312.60,252.10 L312.96,253.47 L313.46,255.29 L314.06,257.48 L314.69,259.96 L315.31,262.62 L315.85,265.40 L316.36,268.38 L316.89,271.65 L317.40,275.11 L317.86,278.67 L318.24,282.24 L318.50,285.70 L318.66,289.08 L318.74,292.46 L318.74,295.84 L318.65,299.23 L318.48,302.61 L318.20,306.00 L317.79,309.39 L317.24,312.79 L316.60,316.19 L315.91,319.60 L315.23,323.00 L314.60,326.40 L314.01,329.86 L313.43,333.39 L312.85,336.93 L312.27,340.39 L311.69,343.70 L311.10,346.80 L310.46,349.81 L309.77,352.81 L309.08,355.68 L308.44,358.25 L307.89,360.41 L307.50,362.00 L307.50,362.00 L307.11,360.41 L306.56,358.25 L305.92,355.68 L305.23,352.81 L304.54,349.81 L303.90,346.80 L303.31,343.70 L302.73,340.39 L302.15,336.93 L301.57,333.39 L300.99,329.86 L300.40,326.40 L299.77,323.00 L299.09,319.60 L298.40,316.19 L297.76,312.79 L297.21,309.39 L296.80,306.00 L296.52,302.61 L296.35,299.23 L296.26,295.84 L296.26,292.46 L296.34,289.08 L296.50,285.70 L296.76,282.24 L297.14,278.67 L297.60,275.11 L298.11,271.65 L298.64,268.38 L299.15,265.40 L299.69,262.62 L300.31,259.96 L300.94,257.48 L301.54,255.29 L302.04,253.47 L302.40,252.10 Z" fill="#f0f7ec" stroke="#8c8c8c" stroke-width="0.6" />
<circle cx="309.54" cy="332.98" r="2.1" fill="#e4f3df" fill-opacity="0.45"/>
<circle cx="309.34" cy="318.69" r="2.1" fill="#e4f3df" fill-opacity="0.45"/>
<circle cx="306.25" cy="269.51" r="2.1" fill="#e4f3df" fill-opacity="0.45"/>
<circle cx="297.60" cy="281.58" r="2.1" fill="#e4f3df" fill-opacity="0.45"/>
<circle cx="303.53" cy="303.19" r="2.1" fill="#e4f3df" fill-opacity="0.45"/>
<circle cx="299.43" cy="287.83" r="2.1" fill="#e4f3df" fill-opacity="0.45"/>
<circle cx="314.94" cy="272.08" r="2.1" fill="#e4f3df" fill-opacity="0.45"/>
<circle cx="309.94" cy="334.97" r="2.1" fill="#e4f3df" fill-opacity="0.45"/>
<circle cx="314.50" cy="307.14" r="2.1" fill="#e4f3df" fill-opacity="0.45"/>
<circle cx="315.42" cy="314.49" r="2.1" fill="#e4f3df" fill-opacity="0.45"/>
<circle cx="301.53" cy="305.58" r="2.1" fill="#e4f3df" fill-opacity="0.45"/>
<circle cx="316.27" cy="281.57" r="2.1" fill="#e4f3df" fill-opacity="0.45"/>
<circle cx="310.63" cy="309.00" r="2.1" fill="#e4f3df" fill-opacity="0.45"/>
<circle cx="301.05" cy="286.37" r="2.1" fill="#e4f3df" fill-opacity="0.45"/>
<circle cx="307.94" cy="354.76" r="2.1" fill="#e4f3df" fill-opacity="0.45"/>
<circle cx="312.20" cy="273.14" r="2.1" fill="#e4f3df" fill-opacity="0.45"/>
<circle cx="304.06" cy="323.85" r="2.1" fill="#e4f3df" fill-opacity="0.45"/>
<circle cx="305.58" cy="345.95" r="2.1" fill="#e4f3df" fill-opacity="0.45"/>
<circle cx="305.83" cy="255.60" r="2.1" fill="#e4f3df" fill-opacity="0.45"/>
<circle cx="310.19" cy="254.89" r="2.1" fill="#e4f3df" fill-opacity="0.45"/>
<circle cx="314.09" cy="280.20" r="2.1" fill="#e4f3df" fill-opacity="0.45"/>
<circle cx="311.13" cy="272.29" r="2.1" fill="#e4f3df" fill-opacity="0.45"/>
<circle cx="299.23" cy="268.74" r="2.1" fill="#e4f3df" fill-opacity="0.45"/>
<circle cx="311.57" cy="319.71" r="2.1" fill="#e4f3df" fill-opacity="0.45"/>
<circle cx="297.03" cy="289.16" r="2.1" fill="#e4f3df" fill-opacity="0.45"/>
<line x1="307.50" y1="252.10" x2="307.50" y2="362.00" stroke="#8c8c8c" stroke-width="0.5" />
<rect x="305.90" y="275.90" width="3.20" height="41.40" fill="#7a7a7a" />
<circle cx="307.50" cy="298.90" r="2.5" fill="#ffffff" stroke="#8a8a8a" stroke-width="0.4"/>
<path d="M350.00,262.90 L350.66,264.30 L351.60,266.26 L352.71,268.56 L353.83,271.01 L354.84,273.39 L355.60,275.50 L356.11,277.27 L356.48,278.85 L356.73,280.37 L356.90,281.94 L357.01,283.67 L357.10,285.70 L357.15,288.09 L357.14,290.76 L357.07,293.60 L356.95,296.50 L356.79,299.33 L356.60,302.00 L356.36,304.53 L356.07,307.04 L355.73,309.48 L355.37,311.84 L354.99,314.09 L354.60,316.20 L354.18,318.16 L353.72,319.99 L353.24,321.70 L352.77,323.33 L352.35,324.89 L352.00,326.40 L351.73,327.93 L351.51,329.47 L351.34,330.94 L351.20,332.27 L351.09,333.38 L351.00,334.20 L339.80,334.20 L339.71,333.38 L339.60,332.27 L339.46,330.94 L339.29,329.47 L339.07,327.93 L338.80,326.40 L338.45,324.89 L338.03,323.33 L337.56,321.70 L337.08,319.99 L336.62,318.16 L336.20,316.20 L335.81,314.09 L335.43,311.84 L335.07,309.48 L334.73,307.04 L334.44,304.53 L334.20,302.00 L334.01,299.33 L333.85,296.50 L333.73,293.60 L333.66,290.76 L333.65,288.09 L333.70,285.70 L333.79,283.67 L333.90,281.94 L334.07,280.37 L334.32,278.85 L334.69,277.27 L335.20,275.50 L335.96,273.39 L336.97,271.01 L338.09,268.56 L339.20,266.26 L340.14,264.30 L340.80,262.90 Z" fill="#d6ecd4" stroke="#8c8c8c" stroke-width="0.6" />
<circle cx="346.39" cy="279.87" r="2.1" fill="#9fd3a3" fill-opacity="0.45"/>
<circle cx="348.11" cy="305.96" r="2.1" fill="#9fd3a3" fill-opacity="0.45"/>
<circle cx="348.80" cy="263.84" r="2.1" fill="#9fd3a3" fill-opacity="0.45"/>
<circle cx="353.18" cy="296.43" r="2.1" fill="#9fd3a3" fill-opacity="0.45"/>
<circle cx="338.08" cy="308.47" r="2.1" fill="#9fd3a3" fill-opacity="0.45"/>
<circle cx="336.57" cy="310.77" r="2.1" fill="#9fd3a3" fill-opacity="0.45"/>
<circle cx="341.07" cy="305.05" r="2.1" fill="#9fd3a3" fill-opacity="0.45"/>
<circle cx="352.46" cy="291.06" r="2.1" fill="#9fd3a3" fill-opacity="0.45"/>
<circle cx="350.02" cy="329.61" r="2.1" fill="#9fd3a3" fill-opacity="0.45"/>
<circle cx="348.35" cy="294.00" r="2.1" fill="#9fd3a3" fill-opacity="0.45"/>
<circle cx="342.80" cy="299.07" r="2.1" fill="#9fd3a3" fill-opacity="0.45"/>
<circle cx="347.25" cy="304.62" r="2.1" fill="#9fd3a3" fill-opacity="0.45"/>
<circle cx="347.34" cy="333.56" r="2.1" fill="#9fd3a3" fill-opacity="0.45"/>
<circle cx="350.13" cy="303.48" r="2.1" fill="#9fd3a3" fill-opacity="0.45"/>
<circle cx="346.53" cy="322.19" r="2.1" fill="#9fd3a3" fill-opacity="0.45"/>
<circle cx="349.97" cy="269.21" r="2.1" fill="#9fd3a3" fill-opacity="0.45"/>
<circle cx="341.47" cy="273.65" r="2.1" fill="#9fd3a3" fill-opacity="0.45"/>
<circle cx="348.08" cy="266.10" r="2.1" fill="#9fd3a3" fill-opacity="0.45"/>
<circle cx="335.53" cy="284.98" r="2.1" fill="#9fd3a3" fill-opacity="0.45"/>
<circle cx="341.97" cy="265.14" r="2.1" fill="#9fd3a3" fill-opacity="0.45"/>
<circle cx="338.02" cy="306.43" r="2.1" fill="#9fd3a3" fill-opacity="0.45"/>
<circle cx="343.81" cy="326.83" r="2.1" fill="#9fd3a3" fill-opacity="0.45"/>
<circle cx="348.67" cy="299.98" r="2.1" fill="#9fd3a3" fill-opacity="0.45"/>
<circle cx="348.07" cy="302.78" r="2.1" fill="#9fd3a3" fill-opacity="0.45"/>
<circle cx="343.83" cy="299.05" r="2.1" fill="#9fd3a3" fill-opacity="0.45"/>
<circle cx="346.50" cy="300.06" r="2.1" fill="#9fd3a3" fill-opacity="0.45"/>
<circle cx="347.27" cy="292.50" r="2.1" fill="#9fd3a3" fill-opacity="0.45"/>
<circle cx="348.23" cy="306.81" r="2.1" fill="#9fd3a3" fill-opacity="0.45"/>
<circle cx="344.69" cy="307.63" r="2.1" fill="#9fd3a3" fill-opacity="0.45"/>
<circle cx="350.26" cy="288.04" r="2.1" fill="#9fd3a3" fill-opacity="0.45"/>
<line x1="345.40" y1="262.90" x2="345.40" y2="334.20" stroke="#8c8c8c" stroke-width="0.5" />
<rect x="343.80" y="282.70" width="3.20" height="32.50" fill="#7a7a7a" />
<circle cx="345.40" cy="294.50" r="2.5" fill="#ffffff" stroke="#8a8a8a" stroke-width="0.4"/>
<path d="M390.80,262.90 L391.21,264.18 L391.79,265.88 L392.48,267.92 L393.17,270.26 L393.81,272.80 L394.30,275.50 L394.66,278.50 L394.94,281.87 L395.17,285.47 L395.33,289.11 L395.44,292.65 L395.50,295.90 L395.52,298.88 L395.51,301.71 L395.44,304.44 L395.29,307.07 L395.05,309.65 L394.70,312.20 L394.18,314.69 L393.51,317.09 L392.74,319.42 L391.94,321.74 L391.18,324.05 L390.50,326.40 L389.90,328.82 L389.33,331.31 L388.79,333.80 L388.29,336.23 L387.82,338.55 L387.40,340.70 L387.02,342.76 L386.67,344.78 L386.36,346.69 L386.09,348.41 L385.87,349.84 L385.70,350.90 L382.30,350.90 L382.13,349.84 L381.91,348.41 L381.64,346.69 L381.33,344.78 L380.98,342.76 L380.60,340.70 L380.18,338.55 L379.71,336.23 L379.21,333.80 L378.67,331.31 L378.10,328.82 L377.50,326.40 L376.82,324.05 L376.06,321.74 L375.26,319.42 L374.49,317.09 L373.82,314.69 L373.30,312.20 L372.95,309.65 L372.71,307.07 L372.56,304.44 L372.49,301.71 L372.48,298.88 L372.50,295.90 L372.56,292.65 L372.67,289.11 L372.83,285.47 L373.06,281.87 L373.34,278.50 L373.70,275.50 L374.19,272.80 L374.83,270.26 L375.52,267.92 L376.21,265.88 L376.79,264.18 L377.20,262.90 Z" fill="#aad6b2" stroke="#8c8c8c" stroke-width="0.6" />
<circle cx="375.22" cy="283.67" r="2.1" fill="#62b57a" fill-opacity="0.45"/>
<circle cx="374.96" cy="276.54" r="2.1" fill="#62b57a" fill-opacity="0.45"/>
<circle cx="384.81" cy="282.43" r="2.1" fill="#62b57a" fill-opacity="0.45"/>
<circle cx="375.64" cy="278.09" r="2.1" fill="#62b57a" fill-opacity="0.45"/>
<circle cx="381.00" cy="333.34" r="2.1" fill="#62b57a" fill-opacity="0.45"/>
<circle cx="384.09" cy="322.01" r="2.1" fill="#62b57a" fill-opacity="0.45"/>
<circle cx="374.61" cy="304.58" r="2.1" fill="#62b57a" fill-opacity="0.45"/>
<circle cx="384.35" cy="339.06" r="2.1" fill="#62b57a" fill-opacity="0.45"/>
<circle cx="382.63" cy="315.60" r="2.1" fill="#62b57a" fill-opacity="0.45"/>
<circle cx="391.10" cy="289.75" r="2.1" fill="#62b57a" fill-opacity="0.45"/>
<circle cx="386.06" cy="266.98" r="2.1" fill="#62b57a" fill-opacity="0.45"/>
<circle cx="383.37" cy="309.95" r="2.1" fill="#62b57a" fill-opacity="0.45"/>
<circle cx="386.88" cy="280.74" r="2.1" fill="#62b57a" fill-opacity="0.45"/>
<circle cx="389.66" cy="294.21" r="2.1" fill="#62b57a" fill-opacity="0.45"/>
<circle cx="392.67" cy="312.05" r="2.1" fill="#62b57a" fill-opacity="0.45"/>
<circle cx="379.00" cy="317.06" r="2.1" fill="#62b57a" fill-opacity="0.45"/>
<circle cx="383.13" cy="278.52" r="2.1" fill="#62b57a" fill-opacity="0.45"/>
<circle cx="389.96" cy="317.50" r="2.1" fill="#62b57a" fill-opacity="0.45"/>
<circle cx="382.80" cy="279.74" r="2.1" fill="#62b57a" fill-opacity="0.45"/>
<circle cx="394.63" cy="296.48" r="2.1" fill="#62b57a" fill-opacity="0.45"/>
<circle cx="377.57" cy="263.73" r="2.1" fill="#62b57a" fill-opacity="0.45"/>
<circle cx="382.57" cy="331.87" r="2.1" fill="#62b57a" fill-opacity="0.45"/>
<circle cx="377.27" cy="300.21" r="2.1" fill="#62b57a" fill-opacity="0.45"/>
<circle cx="378.42" cy="267.76" r="2.1" fill="#62b57a" fill-opacity="0.45"/>
<circle cx="374.48" cy="276.07" r="2.1" fill="#62b57a" fill-opacity="0.45"/>
<circle cx="384.58" cy="273.66" r="2.1" fill="#62b57a" fill-opacity="0.45"/>
<circle cx="378.11" cy="304.94" r="2.1" fill="#62b57a" fill-opacity="0.45"/>
<circle cx="382.76" cy="266.14" r="2.1" fill="#62b57a" fill-opacity="0.45"/>
<circle cx="380.20" cy="265.69" r="2.1" fill="#62b57a" fill-opacity="0.45"/>
<circle cx="378.15" cy="281.21" r="2.1" fill="#62b57a" fill-opacity="0.45"/>
<circle cx="393.24" cy="298.36" r="2.1" fill="#62b57a" fill-opacity="0.45"/>
<circle cx="387.59" cy="292.52" r="2.1" fill="#62b57a" fill-opacity="0.45"/>
<circle cx="389.50" cy="319.44" r="2.1" fill="#62b57a" fill-opacity="0.45"/>
<circle cx="387.11" cy="320.52" r="2.1" fill="#62b57a" fill-opacity="0.45"/>
<circle cx="393.42" cy="274.13" r="2.1" fill="#62b57a" fill-opacity="0.45"/>
<circle cx="378.30" cy="268.22" r="2.1" fill="#62b57a" fill-opacity="0.45"/>
<circle cx="392.95" cy="292.00" r="2.1" fill="#62b57a" fill-opacity="0.45"/>
<circle cx="384.60" cy="304.39" r="2.1" fill="#62b57a" fill-opacity="0.45"/>
<circle cx="385.47" cy="265.91" r="2.1" fill="#62b57a" fill-opacity="0.45"/>
<circle cx="384.81" cy="339.00" r="2.1" fill="#62b57a" fill-opacity="0.45"/>
<circle cx="390.14" cy="294.81" r="2.1" fill="#62b57a" fill-opacity="0.45"/>
<circle cx="384.80" cy="270.39" r="2.1" fill="#62b57a" fill-opacity="0.45"/>
<circle cx="382.06" cy="332.19" r="2.1" fill="#62b57a" fill-opacity="0.45"/>
<circle cx="394.60" cy="305.73" r="2.1" fill="#62b57a" fill-opacity="0.45"/>
<circle cx="382.52" cy="308.00" r="2.1" fill="#62b57a" fill-opacity="0.45"/>
<circle cx="379.73" cy="280.14" r="2.1" fill="#62b57a" fill-opacity="0.45"/>
<circle cx="390.87" cy="300.08" r="2.1" fill="#62b57a" fill-opacity="0.45"/>
<circle cx="381.69" cy="339.84" r="2.1" fill="#62b57a" fill-opacity="0.45"/>
<circle cx="380.34" cy="306.39" r="2.1" fill="#62b57a" fill-opacity="0.45"/>
<circle cx="385.29" cy="342.46" r="2.1" fill="#62b57a" fill-opacity="0.45"/>
<circle cx="385.02" cy="290.34" r="2.1" fill="#62b57a" fill-opacity="0.45"/>
<circle cx="383.79" cy="325.87" r="2.1" fill="#62b57a" fill-opacity="0.45"/>
<circle cx="391.72" cy="284.50" r="2.1" fill="#62b57a" fill-opacity="0.45"/>
<circle cx="387.25" cy="318.05" r="2.1" fill="#62b57a" fill-opacity="0.45"/>
<circle cx="393.39" cy="290.47" r="2.1" fill="#62b57a" fill-opacity="0.45"/>
<circle cx="385.16" cy="332.14" r="2.1" fill="#62b57a" fill-opacity="0.45"/>
<circle cx="389.56" cy="275.28" r="2.1" fill="#62b57a" fill-opacity="0.45"/>
<circle cx="378.03" cy="321.16" r="2.1" fill="#62b57a" fill-opacity="0.45"/>
<circle cx="390.37" cy="275.57" r="2.1" fill="#62b57a" fill-opacity="0.45"/>
<circle cx="386.77" cy="293.74" r="2.1" fill="#62b57a" fill-opacity="0.45"/>
<line x1="384.00" y1="262.90" x2="384.00" y2="350.90" stroke="#8c8c8c" stroke-width="0.5" />
<rect x="382.40" y="277.60" width="3.20" height="37.00" fill="#7a7a7a" />
<circle cx="384.00" cy="303.40" r="2.5" fill="#ffffff" stroke="#8a8a8a" stroke-width="0.4"/>
<text x="414.10" y="222.20" font-size="11.2" font-weight="bold" textLength="4.40" lengthAdjust="spacingAndGlyphs">f</text>
<text x="471.50" y="220.60" font-size="9" textLength="59.70" lengthAdjust="spacingAndGlyphs">Tumor location</text>
<text x="479.10" y="245.00" font-size="7.2" textLength="46.00" lengthAdjust="spacingAndGlyphs"><tspan font-style="italic">P</tspan> = 6.47 × 10<tspan font-size="5" dy="-3">−4</tspan></text>
<line x1="440.50" y1="248.60" x2="440.50" y2="360.70" stroke="#7b7c7e" stroke-width="1.0" />
<line x1="436.50" y1="360.50" x2="440.50" y2="360.50" stroke="#7b7c7e" stroke-width="1.0" />
<text x="433.90" y="363.00" font-size="7.5" text-anchor="end" fill="#231f20" textLength="7.67" lengthAdjust="spacingAndGlyphs">-2</text>
<line x1="436.50" y1="342.50" x2="440.50" y2="342.50" stroke="#7b7c7e" stroke-width="1.0" />
<text x="433.90" y="344.32" font-size="7.5" text-anchor="end" fill="#231f20" textLength="7.67" lengthAdjust="spacingAndGlyphs">-1</text>
<line x1="436.50" y1="323.50" x2="440.50" y2="323.50" stroke="#7b7c7e" stroke-width="1.0" />
<text x="433.90" y="325.63" font-size="7.5" text-anchor="end" fill="#231f20" textLength="4.80" lengthAdjust="spacingAndGlyphs">0</text>
<line x1="436.50" y1="304.50" x2="440.50" y2="304.50" stroke="#7b7c7e" stroke-width="1.0" />
<text x="433.90" y="306.95" font-size="7.5" text-anchor="end" fill="#231f20" textLength="4.80" lengthAdjust="spacingAndGlyphs">1</text>
<line x1="436.50" y1="285.50" x2="440.50" y2="285.50" stroke="#7b7c7e" stroke-width="1.0" />
<text x="433.90" y="288.27" font-size="7.5" text-anchor="end" fill="#231f20" textLength="4.80" lengthAdjust="spacingAndGlyphs">2</text>
<line x1="436.50" y1="267.50" x2="440.50" y2="267.50" stroke="#7b7c7e" stroke-width="1.0" />
<text x="433.90" y="269.58" font-size="7.5" text-anchor="end" fill="#231f20" textLength="4.80" lengthAdjust="spacingAndGlyphs">3</text>
<line x1="436.50" y1="248.50" x2="440.50" y2="248.50" stroke="#7b7c7e" stroke-width="1.0" />
<text x="433.90" y="250.90" font-size="7.5" text-anchor="end" fill="#231f20" textLength="4.80" lengthAdjust="spacingAndGlyphs">4</text>
<line x1="440.50" y1="360.50" x2="561.70" y2="360.50" stroke="#7b7c7e" stroke-width="1.0" />
<line x1="460.50" y1="360.70" x2="460.50" y2="364.30" stroke="#7b7c7e" stroke-width="1.0" />
<line x1="501.50" y1="360.70" x2="501.50" y2="364.30" stroke="#7b7c7e" stroke-width="1.0" />
<line x1="541.50" y1="360.70" x2="541.50" y2="364.30" stroke="#7b7c7e" stroke-width="1.0" />
<text x="0" y="0" font-size="9" transform="translate(422.40,305.70) rotate(-90)" text-anchor="middle" textLength="40.20" lengthAdjust="spacingAndGlyphs">log<tspan font-size="6.2" dy="1.8">10</tspan><tspan dy="-1.8">(TBB)</tspan></text>
<text x="460.80" y="375.00" font-size="8.5" text-anchor="middle">Oral</text>
<text x="460.80" y="384.80" font-size="8.5" text-anchor="middle">cavity</text>
<text x="501.20" y="375.00" font-size="8.5" text-anchor="middle">Larynx</text>
<text x="541.60" y="375.00" font-size="8.5" text-anchor="middle" textLength="46.50" lengthAdjust="spacingAndGlyphs">Oropharynx</text>
<path d="M462.90,249.50 L463.54,250.71 L464.43,252.34 L465.49,254.29 L466.60,256.47 L467.67,258.81 L468.60,261.20 L469.44,263.75 L470.29,266.56 L471.09,269.51 L471.81,272.50 L472.40,275.43 L472.80,278.20 L473.00,280.77 L473.01,283.21 L472.90,285.60 L472.70,287.99 L472.45,290.43 L472.20,293.00 L471.95,295.68 L471.66,298.43 L471.32,301.24 L470.94,304.10 L470.50,307.03 L470.00,310.00 L469.39,313.07 L468.68,316.26 L467.91,319.50 L467.14,322.74 L466.42,325.93 L465.80,329.00 L465.30,331.96 L464.87,334.85 L464.50,337.69 L464.15,340.48 L463.79,343.25 L463.40,346.00 L462.95,348.91 L462.45,352.00 L461.95,355.06 L461.48,357.89 L461.09,360.27 L460.80,362.00 L460.80,362.00 L460.51,360.27 L460.12,357.89 L459.65,355.06 L459.15,352.00 L458.65,348.91 L458.20,346.00 L457.81,343.25 L457.45,340.48 L457.10,337.69 L456.73,334.85 L456.30,331.96 L455.80,329.00 L455.18,325.93 L454.46,322.74 L453.69,319.50 L452.92,316.26 L452.21,313.07 L451.60,310.00 L451.10,307.03 L450.66,304.10 L450.28,301.24 L449.94,298.43 L449.65,295.68 L449.40,293.00 L449.15,290.43 L448.90,287.99 L448.70,285.60 L448.59,283.21 L448.60,280.77 L448.80,278.20 L449.20,275.43 L449.79,272.50 L450.51,269.51 L451.31,266.56 L452.16,263.75 L453.00,261.20 L453.93,258.81 L455.00,256.47 L456.11,254.29 L457.17,252.34 L458.06,250.71 L458.70,249.50 Z" fill="#cdeedb" stroke="#8c8c8c" stroke-width="0.6" />
<circle cx="465.93" cy="322.51" r="2.1" fill="#7fd3a2" fill-opacity="0.45"/>
<circle cx="455.54" cy="302.27" r="2.1" fill="#7fd3a2" fill-opacity="0.45"/>
<circle cx="455.82" cy="273.88" r="2.1" fill="#7fd3a2" fill-opacity="0.45"/>
<circle cx="462.93" cy="265.11" r="2.1" fill="#7fd3a2" fill-opacity="0.45"/>
<circle cx="464.06" cy="310.16" r="2.1" fill="#7fd3a2" fill-opacity="0.45"/>
<circle cx="453.76" cy="268.17" r="2.1" fill="#7fd3a2" fill-opacity="0.45"/>
<circle cx="463.32" cy="283.40" r="2.1" fill="#7fd3a2" fill-opacity="0.45"/>
<circle cx="458.97" cy="325.77" r="2.1" fill="#7fd3a2" fill-opacity="0.45"/>
<circle cx="464.98" cy="303.64" r="2.1" fill="#7fd3a2" fill-opacity="0.45"/>
<circle cx="463.71" cy="333.85" r="2.1" fill="#7fd3a2" fill-opacity="0.45"/>
<circle cx="470.25" cy="269.85" r="2.1" fill="#7fd3a2" fill-opacity="0.45"/>
<circle cx="457.35" cy="288.24" r="2.1" fill="#7fd3a2" fill-opacity="0.45"/>
<circle cx="463.33" cy="339.19" r="2.1" fill="#7fd3a2" fill-opacity="0.45"/>
<circle cx="463.44" cy="287.83" r="2.1" fill="#7fd3a2" fill-opacity="0.45"/>
<circle cx="470.91" cy="287.75" r="2.1" fill="#7fd3a2" fill-opacity="0.45"/>
<circle cx="456.35" cy="284.65" r="2.1" fill="#7fd3a2" fill-opacity="0.45"/>
<circle cx="459.05" cy="309.52" r="2.1" fill="#7fd3a2" fill-opacity="0.45"/>
<circle cx="465.93" cy="316.32" r="2.1" fill="#7fd3a2" fill-opacity="0.45"/>
<circle cx="451.01" cy="296.95" r="2.1" fill="#7fd3a2" fill-opacity="0.45"/>
<circle cx="464.77" cy="320.42" r="2.1" fill="#7fd3a2" fill-opacity="0.45"/>
<circle cx="453.18" cy="298.39" r="2.1" fill="#7fd3a2" fill-opacity="0.45"/>
<circle cx="459.66" cy="282.67" r="2.1" fill="#7fd3a2" fill-opacity="0.45"/>
<circle cx="460.55" cy="300.52" r="2.1" fill="#7fd3a2" fill-opacity="0.45"/>
<circle cx="456.52" cy="303.39" r="2.1" fill="#7fd3a2" fill-opacity="0.45"/>
<circle cx="451.00" cy="287.58" r="2.1" fill="#7fd3a2" fill-opacity="0.45"/>
<circle cx="463.92" cy="324.20" r="2.1" fill="#7fd3a2" fill-opacity="0.45"/>
<circle cx="462.29" cy="336.10" r="2.1" fill="#7fd3a2" fill-opacity="0.45"/>
<circle cx="464.63" cy="322.34" r="2.1" fill="#7fd3a2" fill-opacity="0.45"/>
<circle cx="468.90" cy="288.88" r="2.1" fill="#7fd3a2" fill-opacity="0.45"/>
<circle cx="464.73" cy="303.19" r="2.1" fill="#7fd3a2" fill-opacity="0.45"/>
<circle cx="463.51" cy="314.85" r="2.1" fill="#7fd3a2" fill-opacity="0.45"/>
<circle cx="459.65" cy="267.50" r="2.1" fill="#7fd3a2" fill-opacity="0.45"/>
<circle cx="465.02" cy="274.14" r="2.1" fill="#7fd3a2" fill-opacity="0.45"/>
<circle cx="460.54" cy="254.21" r="2.1" fill="#7fd3a2" fill-opacity="0.45"/>
<circle cx="456.88" cy="255.59" r="2.1" fill="#7fd3a2" fill-opacity="0.45"/>
<circle cx="454.43" cy="269.92" r="2.1" fill="#7fd3a2" fill-opacity="0.45"/>
<circle cx="458.30" cy="301.85" r="2.1" fill="#7fd3a2" fill-opacity="0.45"/>
<circle cx="452.21" cy="295.63" r="2.1" fill="#7fd3a2" fill-opacity="0.45"/>
<circle cx="450.09" cy="291.56" r="2.1" fill="#7fd3a2" fill-opacity="0.45"/>
<circle cx="461.47" cy="260.17" r="2.1" fill="#7fd3a2" fill-opacity="0.45"/>
<circle cx="467.72" cy="296.65" r="2.1" fill="#7fd3a2" fill-opacity="0.45"/>
<circle cx="452.51" cy="291.06" r="2.1" fill="#7fd3a2" fill-opacity="0.45"/>
<circle cx="462.78" cy="313.15" r="2.1" fill="#7fd3a2" fill-opacity="0.45"/>
<circle cx="466.21" cy="320.31" r="2.1" fill="#7fd3a2" fill-opacity="0.45"/>
<circle cx="454.84" cy="298.06" r="2.1" fill="#7fd3a2" fill-opacity="0.45"/>
<circle cx="459.12" cy="305.33" r="2.1" fill="#7fd3a2" fill-opacity="0.45"/>
<circle cx="460.24" cy="281.72" r="2.1" fill="#7fd3a2" fill-opacity="0.45"/>
<circle cx="459.99" cy="319.44" r="2.1" fill="#7fd3a2" fill-opacity="0.45"/>
<circle cx="463.24" cy="337.44" r="2.1" fill="#7fd3a2" fill-opacity="0.45"/>
<circle cx="458.90" cy="337.46" r="2.1" fill="#7fd3a2" fill-opacity="0.45"/>
<circle cx="463.44" cy="282.48" r="2.1" fill="#7fd3a2" fill-opacity="0.45"/>
<circle cx="465.14" cy="262.80" r="2.1" fill="#7fd3a2" fill-opacity="0.45"/>
<circle cx="457.76" cy="309.52" r="2.1" fill="#7fd3a2" fill-opacity="0.45"/>
<circle cx="460.13" cy="309.11" r="2.1" fill="#7fd3a2" fill-opacity="0.45"/>
<circle cx="461.58" cy="333.31" r="2.1" fill="#7fd3a2" fill-opacity="0.45"/>
<circle cx="459.74" cy="277.90" r="2.1" fill="#7fd3a2" fill-opacity="0.45"/>
<circle cx="460.99" cy="349.39" r="2.1" fill="#7fd3a2" fill-opacity="0.45"/>
<circle cx="467.65" cy="281.72" r="2.1" fill="#7fd3a2" fill-opacity="0.45"/>
<circle cx="460.40" cy="265.55" r="2.1" fill="#7fd3a2" fill-opacity="0.45"/>
<circle cx="457.44" cy="305.49" r="2.1" fill="#7fd3a2" fill-opacity="0.45"/>
<circle cx="465.83" cy="315.41" r="2.1" fill="#7fd3a2" fill-opacity="0.45"/>
<circle cx="468.20" cy="275.38" r="2.1" fill="#7fd3a2" fill-opacity="0.45"/>
<circle cx="464.25" cy="255.00" r="2.1" fill="#7fd3a2" fill-opacity="0.45"/>
<circle cx="462.89" cy="266.34" r="2.1" fill="#7fd3a2" fill-opacity="0.45"/>
<circle cx="463.19" cy="267.63" r="2.1" fill="#7fd3a2" fill-opacity="0.45"/>
<circle cx="458.88" cy="261.67" r="2.1" fill="#7fd3a2" fill-opacity="0.45"/>
<circle cx="463.23" cy="284.89" r="2.1" fill="#7fd3a2" fill-opacity="0.45"/>
<circle cx="460.51" cy="355.09" r="2.1" fill="#7fd3a2" fill-opacity="0.45"/>
<circle cx="468.84" cy="306.41" r="2.1" fill="#7fd3a2" fill-opacity="0.45"/>
<circle cx="457.42" cy="319.35" r="2.1" fill="#7fd3a2" fill-opacity="0.45"/>
<circle cx="466.81" cy="278.10" r="2.1" fill="#7fd3a2" fill-opacity="0.45"/>
<circle cx="456.08" cy="264.55" r="2.1" fill="#7fd3a2" fill-opacity="0.45"/>
<circle cx="455.37" cy="259.76" r="2.1" fill="#7fd3a2" fill-opacity="0.45"/>
<circle cx="469.64" cy="276.34" r="2.1" fill="#7fd3a2" fill-opacity="0.45"/>
<circle cx="467.96" cy="285.87" r="2.1" fill="#7fd3a2" fill-opacity="0.45"/>
<circle cx="469.35" cy="266.47" r="2.1" fill="#7fd3a2" fill-opacity="0.45"/>
<circle cx="464.64" cy="324.32" r="2.1" fill="#7fd3a2" fill-opacity="0.45"/>
<circle cx="458.75" cy="319.79" r="2.1" fill="#7fd3a2" fill-opacity="0.45"/>
<circle cx="463.53" cy="286.99" r="2.1" fill="#7fd3a2" fill-opacity="0.45"/>
<circle cx="452.50" cy="292.90" r="2.1" fill="#7fd3a2" fill-opacity="0.45"/>
<circle cx="464.71" cy="322.39" r="2.1" fill="#7fd3a2" fill-opacity="0.45"/>
<circle cx="464.83" cy="313.99" r="2.1" fill="#7fd3a2" fill-opacity="0.45"/>
<circle cx="450.71" cy="272.27" r="2.1" fill="#7fd3a2" fill-opacity="0.45"/>
<circle cx="466.11" cy="303.61" r="2.1" fill="#7fd3a2" fill-opacity="0.45"/>
<circle cx="468.88" cy="302.40" r="2.1" fill="#7fd3a2" fill-opacity="0.45"/>
<circle cx="460.05" cy="297.72" r="2.1" fill="#7fd3a2" fill-opacity="0.45"/>
<circle cx="454.27" cy="266.90" r="2.1" fill="#7fd3a2" fill-opacity="0.45"/>
<circle cx="469.48" cy="292.89" r="2.1" fill="#7fd3a2" fill-opacity="0.45"/>
<circle cx="455.47" cy="278.08" r="2.1" fill="#7fd3a2" fill-opacity="0.45"/>
<circle cx="454.34" cy="281.79" r="2.1" fill="#7fd3a2" fill-opacity="0.45"/>
<line x1="460.80" y1="249.50" x2="460.80" y2="362.00" stroke="#8c8c8c" stroke-width="0.5" />
<rect x="459.20" y="272.90" width="3.20" height="36.70" fill="#7a7a7a" />
<circle cx="460.80" cy="290.30" r="2.5" fill="#ffffff" stroke="#8a8a8a" stroke-width="0.4"/>
<path d="M507.40,262.90 L507.80,264.02 L508.37,265.49 L509.04,267.26 L509.75,269.30 L510.42,271.56 L511.00,274.00 L511.52,276.73 L512.03,279.82 L512.52,283.13 L512.94,286.52 L513.28,289.86 L513.50,293.00 L513.61,295.97 L513.62,298.90 L513.55,301.76 L513.39,304.57 L513.14,307.32 L512.80,310.00 L512.34,312.59 L511.75,315.09 L511.07,317.53 L510.34,319.94 L509.60,322.35 L508.90,324.80 L508.19,327.33 L507.43,329.92 L506.67,332.51 L505.93,335.05 L505.26,337.46 L504.70,339.70 L504.24,341.84 L503.86,343.94 L503.54,345.93 L503.28,347.71 L503.07,349.20 L502.90,350.30 L500.10,350.30 L499.93,349.20 L499.72,347.71 L499.46,345.93 L499.14,343.94 L498.76,341.84 L498.30,339.70 L497.74,337.46 L497.07,335.05 L496.33,332.51 L495.57,329.92 L494.81,327.33 L494.10,324.80 L493.40,322.35 L492.66,319.94 L491.93,317.53 L491.25,315.09 L490.66,312.59 L490.20,310.00 L489.86,307.32 L489.61,304.57 L489.45,301.76 L489.38,298.90 L489.39,295.97 L489.50,293.00 L489.72,289.86 L490.06,286.52 L490.48,283.13 L490.97,279.82 L491.48,276.73 L492.00,274.00 L492.58,271.56 L493.25,269.30 L493.96,267.26 L494.63,265.49 L495.20,264.02 L495.60,262.90 Z" fill="#bfdff2" stroke="#8c8c8c" stroke-width="0.6" />
<circle cx="508.03" cy="295.51" r="2.1" fill="#78bce6" fill-opacity="0.45"/>
<circle cx="503.81" cy="332.99" r="2.1" fill="#78bce6" fill-opacity="0.45"/>
<circle cx="505.62" cy="309.95" r="2.1" fill="#78bce6" fill-opacity="0.45"/>
<circle cx="508.26" cy="311.29" r="2.1" fill="#78bce6" fill-opacity="0.45"/>
<circle cx="491.78" cy="292.23" r="2.1" fill="#78bce6" fill-opacity="0.45"/>
<circle cx="500.96" cy="333.24" r="2.1" fill="#78bce6" fill-opacity="0.45"/>
<circle cx="504.35" cy="280.13" r="2.1" fill="#78bce6" fill-opacity="0.45"/>
<circle cx="503.59" cy="289.50" r="2.1" fill="#78bce6" fill-opacity="0.45"/>
<circle cx="501.66" cy="339.82" r="2.1" fill="#78bce6" fill-opacity="0.45"/>
<circle cx="498.28" cy="320.82" r="2.1" fill="#78bce6" fill-opacity="0.45"/>
<circle cx="492.94" cy="305.18" r="2.1" fill="#78bce6" fill-opacity="0.45"/>
<circle cx="502.88" cy="338.55" r="2.1" fill="#78bce6" fill-opacity="0.45"/>
<circle cx="511.15" cy="292.00" r="2.1" fill="#78bce6" fill-opacity="0.45"/>
<circle cx="498.62" cy="289.66" r="2.1" fill="#78bce6" fill-opacity="0.45"/>
<circle cx="509.47" cy="301.98" r="2.1" fill="#78bce6" fill-opacity="0.45"/>
<circle cx="500.83" cy="308.06" r="2.1" fill="#78bce6" fill-opacity="0.45"/>
<circle cx="491.46" cy="298.65" r="2.1" fill="#78bce6" fill-opacity="0.45"/>
<circle cx="501.22" cy="286.13" r="2.1" fill="#78bce6" fill-opacity="0.45"/>
<circle cx="503.19" cy="273.69" r="2.1" fill="#78bce6" fill-opacity="0.45"/>
<circle cx="500.41" cy="285.30" r="2.1" fill="#78bce6" fill-opacity="0.45"/>
<circle cx="499.48" cy="285.17" r="2.1" fill="#78bce6" fill-opacity="0.45"/>
<circle cx="496.91" cy="316.40" r="2.1" fill="#78bce6" fill-opacity="0.45"/>
<circle cx="493.00" cy="304.72" r="2.1" fill="#78bce6" fill-opacity="0.45"/>
<circle cx="508.67" cy="289.62" r="2.1" fill="#78bce6" fill-opacity="0.45"/>
<circle cx="503.99" cy="295.77" r="2.1" fill="#78bce6" fill-opacity="0.45"/>
<circle cx="501.21" cy="297.71" r="2.1" fill="#78bce6" fill-opacity="0.45"/>
<circle cx="500.57" cy="344.76" r="2.1" fill="#78bce6" fill-opacity="0.45"/>
<circle cx="490.85" cy="302.17" r="2.1" fill="#78bce6" fill-opacity="0.45"/>
<circle cx="512.07" cy="294.54" r="2.1" fill="#78bce6" fill-opacity="0.45"/>
<circle cx="499.97" cy="316.51" r="2.1" fill="#78bce6" fill-opacity="0.45"/>
<line x1="501.50" y1="262.90" x2="501.50" y2="350.30" stroke="#8c8c8c" stroke-width="0.5" />
<rect x="499.90" y="285.00" width="3.20" height="30.30" fill="#7a7a7a" />
<circle cx="501.50" cy="300.40" r="2.5" fill="#ffffff" stroke="#8a8a8a" stroke-width="0.4"/>
<path d="M543.20,254.80 L543.28,257.49 L543.37,261.34 L543.49,265.84 L543.67,270.48 L543.93,274.77 L544.30,278.20 L544.79,280.58 L545.40,282.29 L546.08,283.64 L546.83,284.96 L547.61,286.57 L548.40,288.80 L549.33,291.79 L550.43,295.32 L551.57,299.14 L552.61,303.01 L553.40,306.71 L553.80,310.00 L553.73,312.84 L553.28,315.40 L552.59,317.79 L551.77,320.10 L550.97,322.40 L550.30,324.80 L549.73,327.35 L549.14,329.98 L548.56,332.62 L548.01,335.17 L547.52,337.56 L547.10,339.70 L546.76,341.63 L546.48,343.44 L546.25,345.08 L546.07,346.51 L545.92,347.70 L545.80,348.60 L537.80,348.60 L537.68,347.70 L537.53,346.51 L537.35,345.08 L537.12,343.44 L536.84,341.63 L536.50,339.70 L536.08,337.56 L535.59,335.17 L535.04,332.62 L534.46,329.98 L533.87,327.35 L533.30,324.80 L532.63,322.40 L531.83,320.10 L531.01,317.79 L530.32,315.40 L529.87,312.84 L529.80,310.00 L530.20,306.71 L530.99,303.01 L532.02,299.14 L533.17,295.32 L534.27,291.79 L535.20,288.80 L535.99,286.57 L536.77,284.96 L537.52,283.64 L538.20,282.29 L538.81,280.58 L539.30,278.20 L539.67,274.77 L539.93,270.48 L540.11,265.84 L540.23,261.34 L540.32,257.49 L540.40,254.80 Z" fill="#f2c4f2" stroke="#8c8c8c" stroke-width="0.6" />
<circle cx="541.82" cy="260.24" r="2.1" fill="#e08be0" fill-opacity="0.45"/>
<circle cx="534.33" cy="295.48" r="2.1" fill="#e08be0" fill-opacity="0.45"/>
<circle cx="547.30" cy="294.62" r="2.1" fill="#e08be0" fill-opacity="0.45"/>
<circle cx="539.35" cy="308.93" r="2.1" fill="#e08be0" fill-opacity="0.45"/>
<circle cx="539.32" cy="281.97" r="2.1" fill="#e08be0" fill-opacity="0.45"/>
<circle cx="544.54" cy="283.74" r="2.1" fill="#e08be0" fill-opacity="0.45"/>
<circle cx="545.11" cy="309.35" r="2.1" fill="#e08be0" fill-opacity="0.45"/>
<circle cx="531.76" cy="306.18" r="2.1" fill="#e08be0" fill-opacity="0.45"/>
<circle cx="544.49" cy="336.89" r="2.1" fill="#e08be0" fill-opacity="0.45"/>
<circle cx="536.04" cy="325.82" r="2.1" fill="#e08be0" fill-opacity="0.45"/>
<circle cx="550.68" cy="308.55" r="2.1" fill="#e08be0" fill-opacity="0.45"/>
<circle cx="543.69" cy="320.02" r="2.1" fill="#e08be0" fill-opacity="0.45"/>
<circle cx="545.02" cy="299.27" r="2.1" fill="#e08be0" fill-opacity="0.45"/>
<circle cx="538.82" cy="331.90" r="2.1" fill="#e08be0" fill-opacity="0.45"/>
<circle cx="535.51" cy="298.11" r="2.1" fill="#e08be0" fill-opacity="0.45"/>
<circle cx="539.64" cy="294.10" r="2.1" fill="#e08be0" fill-opacity="0.45"/>
<circle cx="546.00" cy="312.73" r="2.1" fill="#e08be0" fill-opacity="0.45"/>
<circle cx="540.20" cy="329.64" r="2.1" fill="#e08be0" fill-opacity="0.45"/>
<circle cx="542.25" cy="264.51" r="2.1" fill="#e08be0" fill-opacity="0.45"/>
<circle cx="536.56" cy="286.70" r="2.1" fill="#e08be0" fill-opacity="0.45"/>
<circle cx="543.14" cy="336.81" r="2.1" fill="#e08be0" fill-opacity="0.45"/>
<circle cx="541.49" cy="298.51" r="2.1" fill="#e08be0" fill-opacity="0.45"/>
<circle cx="537.21" cy="332.55" r="2.1" fill="#e08be0" fill-opacity="0.45"/>
<circle cx="542.06" cy="344.00" r="2.1" fill="#e08be0" fill-opacity="0.45"/>
<circle cx="531.02" cy="305.75" r="2.1" fill="#e08be0" fill-opacity="0.45"/>
<circle cx="541.07" cy="279.29" r="2.1" fill="#e08be0" fill-opacity="0.45"/>
<circle cx="545.16" cy="331.56" r="2.1" fill="#e08be0" fill-opacity="0.45"/>
<circle cx="538.66" cy="303.35" r="2.1" fill="#e08be0" fill-opacity="0.45"/>
<circle cx="551.02" cy="319.76" r="2.1" fill="#e08be0" fill-opacity="0.45"/>
<circle cx="540.57" cy="344.38" r="2.1" fill="#e08be0" fill-opacity="0.45"/>
<circle cx="551.28" cy="313.34" r="2.1" fill="#e08be0" fill-opacity="0.45"/>
<circle cx="544.84" cy="299.77" r="2.1" fill="#e08be0" fill-opacity="0.45"/>
<circle cx="545.67" cy="328.18" r="2.1" fill="#e08be0" fill-opacity="0.45"/>
<circle cx="535.82" cy="322.79" r="2.1" fill="#e08be0" fill-opacity="0.45"/>
<circle cx="543.13" cy="346.75" r="2.1" fill="#e08be0" fill-opacity="0.45"/>
<line x1="541.80" y1="254.80" x2="541.80" y2="348.60" stroke="#8c8c8c" stroke-width="0.5" />
<rect x="540.20" y="301.90" width="3.20" height="25.50" fill="#7a7a7a" />
<circle cx="541.80" cy="313.20" r="2.5" fill="#ffffff" stroke="#8a8a8a" stroke-width="0.4"/>
<text x="569.50" y="221.60" font-size="11.2" font-weight="bold" textLength="8.07" lengthAdjust="spacingAndGlyphs">g</text>
<text x="619.30" y="220.40" font-size="9" textLength="42.50" lengthAdjust="spacingAndGlyphs">HPV status</text>
<text x="616.20" y="244.60" font-size="8.2" textLength="50.60" lengthAdjust="spacingAndGlyphs"><tspan font-style="italic">P</tspan> = 2.45 × 10<tspan font-size="5.2" dy="-3">−4</tspan></text>
<line x1="596.50" y1="248.40" x2="596.50" y2="362.80" stroke="#7b7c7e" stroke-width="1.0" />
<line x1="592.50" y1="362.50" x2="596.50" y2="362.50" stroke="#7b7c7e" stroke-width="1.0" />
<text x="589.40" y="365.10" font-size="7.5" text-anchor="end" fill="#231f20" textLength="7.67" lengthAdjust="spacingAndGlyphs">-2</text>
<line x1="592.50" y1="343.50" x2="596.50" y2="343.50" stroke="#7b7c7e" stroke-width="1.0" />
<text x="589.40" y="346.03" font-size="7.5" text-anchor="end" fill="#231f20" textLength="7.67" lengthAdjust="spacingAndGlyphs">-1</text>
<line x1="592.50" y1="324.50" x2="596.50" y2="324.50" stroke="#7b7c7e" stroke-width="1.0" />
<text x="589.40" y="326.97" font-size="7.5" text-anchor="end" fill="#231f20" textLength="4.80" lengthAdjust="spacingAndGlyphs">0</text>
<line x1="592.50" y1="305.50" x2="596.50" y2="305.50" stroke="#7b7c7e" stroke-width="1.0" />
<text x="589.40" y="307.90" font-size="7.5" text-anchor="end" fill="#231f20" textLength="4.80" lengthAdjust="spacingAndGlyphs">1</text>
<line x1="592.50" y1="286.50" x2="596.50" y2="286.50" stroke="#7b7c7e" stroke-width="1.0" />
<text x="589.40" y="288.83" font-size="7.5" text-anchor="end" fill="#231f20" textLength="4.80" lengthAdjust="spacingAndGlyphs">2</text>
<line x1="592.50" y1="267.50" x2="596.50" y2="267.50" stroke="#7b7c7e" stroke-width="1.0" />
<text x="589.40" y="269.77" font-size="7.5" text-anchor="end" fill="#231f20" textLength="4.80" lengthAdjust="spacingAndGlyphs">3</text>
<line x1="592.50" y1="248.50" x2="596.50" y2="248.50" stroke="#7b7c7e" stroke-width="1.0" />
<text x="589.40" y="250.70" font-size="7.5" text-anchor="end" fill="#231f20" textLength="4.80" lengthAdjust="spacingAndGlyphs">4</text>
<line x1="596.50" y1="362.50" x2="685.00" y2="362.50" stroke="#7b7c7e" stroke-width="1.0" />
<line x1="618.50" y1="362.80" x2="618.50" y2="366.40" stroke="#7b7c7e" stroke-width="1.0" />
<line x1="662.50" y1="362.80" x2="662.50" y2="366.40" stroke="#7b7c7e" stroke-width="1.0" />
<text x="0" y="0" font-size="9" transform="translate(577.00,306.60) rotate(-90)" text-anchor="middle" textLength="40.20" lengthAdjust="spacingAndGlyphs">log<tspan font-size="6.2" dy="1.8">10</tspan><tspan dy="-1.8">(TBB)</tspan></text>
<text x="618.60" y="377.60" font-size="8.5" text-anchor="middle">HPV<tspan font-size="5.5" dy="-3.2">−</tspan></text>
<text x="662.50" y="377.60" font-size="8.5" text-anchor="middle">HPV<tspan font-size="5.5" dy="-3.2">+</tspan></text>
<path d="M621.50,248.90 L621.96,249.98 L622.58,251.45 L623.32,253.21 L624.14,255.14 L624.98,257.14 L625.80,259.10 L626.67,261.10 L627.63,263.22 L628.62,265.42 L629.56,267.62 L630.38,269.77 L631.00,271.80 L631.42,273.58 L631.70,275.13 L631.86,276.62 L631.91,278.23 L631.89,280.13 L631.80,282.50 L631.64,285.43 L631.40,288.79 L631.07,292.44 L630.67,296.24 L630.21,300.05 L629.70,303.70 L629.11,307.23 L628.41,310.77 L627.66,314.30 L626.89,317.83 L626.12,321.37 L625.40,324.90 L624.72,328.49 L624.04,332.14 L623.38,335.79 L622.73,339.37 L622.10,342.83 L621.50,346.10 L620.89,349.32 L620.26,352.59 L619.66,355.73 L619.10,358.57 L618.64,360.95 L618.30,362.70 L618.30,362.70 L617.96,360.95 L617.50,358.57 L616.94,355.73 L616.34,352.59 L615.71,349.32 L615.10,346.10 L614.50,342.83 L613.87,339.37 L613.22,335.79 L612.56,332.14 L611.88,328.49 L611.20,324.90 L610.48,321.37 L609.71,317.83 L608.94,314.30 L608.19,310.77 L607.49,307.23 L606.90,303.70 L606.39,300.05 L605.93,296.24 L605.53,292.44 L605.20,288.79 L604.96,285.43 L604.80,282.50 L604.71,280.13 L604.69,278.23 L604.74,276.62 L604.90,275.13 L605.18,273.58 L605.60,271.80 L606.22,269.77 L607.04,267.62 L607.98,265.42 L608.97,263.22 L609.93,261.10 L610.80,259.10 L611.62,257.14 L612.46,255.14 L613.27,253.21 L614.02,251.45 L614.64,249.98 L615.10,248.90 Z" fill="#ffcaca" stroke="#8c8c8c" stroke-width="0.6" />
<circle cx="630.62" cy="274.70" r="2.1" fill="#ff8c8c" fill-opacity="0.45"/>
<circle cx="613.07" cy="329.11" r="2.1" fill="#ff8c8c" fill-opacity="0.45"/>
<circle cx="617.67" cy="321.94" r="2.1" fill="#ff8c8c" fill-opacity="0.45"/>
<circle cx="614.31" cy="259.09" r="2.1" fill="#ff8c8c" fill-opacity="0.45"/>
<circle cx="615.79" cy="279.26" r="2.1" fill="#ff8c8c" fill-opacity="0.45"/>
<circle cx="608.41" cy="292.04" r="2.1" fill="#ff8c8c" fill-opacity="0.45"/>
<circle cx="623.35" cy="287.41" r="2.1" fill="#ff8c8c" fill-opacity="0.45"/>
<circle cx="614.42" cy="281.41" r="2.1" fill="#ff8c8c" fill-opacity="0.45"/>
<circle cx="623.48" cy="264.26" r="2.1" fill="#ff8c8c" fill-opacity="0.45"/>
<circle cx="618.32" cy="344.89" r="2.1" fill="#ff8c8c" fill-opacity="0.45"/>
<circle cx="618.91" cy="265.99" r="2.1" fill="#ff8c8c" fill-opacity="0.45"/>
<circle cx="614.73" cy="328.71" r="2.1" fill="#ff8c8c" fill-opacity="0.45"/>
<circle cx="617.12" cy="250.26" r="2.1" fill="#ff8c8c" fill-opacity="0.45"/>
<circle cx="615.28" cy="297.08" r="2.1" fill="#ff8c8c" fill-opacity="0.45"/>
<circle cx="625.08" cy="271.87" r="2.1" fill="#ff8c8c" fill-opacity="0.45"/>
<circle cx="616.82" cy="268.26" r="2.1" fill="#ff8c8c" fill-opacity="0.45"/>
<circle cx="616.96" cy="295.57" r="2.1" fill="#ff8c8c" fill-opacity="0.45"/>
<circle cx="614.49" cy="315.87" r="2.1" fill="#ff8c8c" fill-opacity="0.45"/>
<circle cx="612.56" cy="258.60" r="2.1" fill="#ff8c8c" fill-opacity="0.45"/>
<circle cx="626.30" cy="289.89" r="2.1" fill="#ff8c8c" fill-opacity="0.45"/>
<circle cx="616.01" cy="264.88" r="2.1" fill="#ff8c8c" fill-opacity="0.45"/>
<circle cx="620.54" cy="249.23" r="2.1" fill="#ff8c8c" fill-opacity="0.45"/>
<circle cx="629.42" cy="269.13" r="2.1" fill="#ff8c8c" fill-opacity="0.45"/>
<circle cx="619.82" cy="258.39" r="2.1" fill="#ff8c8c" fill-opacity="0.45"/>
<circle cx="610.33" cy="302.75" r="2.1" fill="#ff8c8c" fill-opacity="0.45"/>
<circle cx="617.43" cy="314.99" r="2.1" fill="#ff8c8c" fill-opacity="0.45"/>
<circle cx="623.73" cy="298.91" r="2.1" fill="#ff8c8c" fill-opacity="0.45"/>
<circle cx="615.84" cy="302.53" r="2.1" fill="#ff8c8c" fill-opacity="0.45"/>
<circle cx="610.25" cy="274.56" r="2.1" fill="#ff8c8c" fill-opacity="0.45"/>
<circle cx="616.55" cy="290.33" r="2.1" fill="#ff8c8c" fill-opacity="0.45"/>
<circle cx="622.81" cy="306.09" r="2.1" fill="#ff8c8c" fill-opacity="0.45"/>
<circle cx="618.99" cy="275.01" r="2.1" fill="#ff8c8c" fill-opacity="0.45"/>
<circle cx="612.90" cy="274.35" r="2.1" fill="#ff8c8c" fill-opacity="0.45"/>
<circle cx="615.93" cy="317.74" r="2.1" fill="#ff8c8c" fill-opacity="0.45"/>
<circle cx="606.57" cy="279.49" r="2.1" fill="#ff8c8c" fill-opacity="0.45"/>
<circle cx="616.12" cy="279.73" r="2.1" fill="#ff8c8c" fill-opacity="0.45"/>
<circle cx="618.34" cy="340.42" r="2.1" fill="#ff8c8c" fill-opacity="0.45"/>
<circle cx="624.11" cy="316.79" r="2.1" fill="#ff8c8c" fill-opacity="0.45"/>
<circle cx="621.44" cy="318.35" r="2.1" fill="#ff8c8c" fill-opacity="0.45"/>
<circle cx="605.98" cy="285.31" r="2.1" fill="#ff8c8c" fill-opacity="0.45"/>
<circle cx="615.14" cy="317.15" r="2.1" fill="#ff8c8c" fill-opacity="0.45"/>
<circle cx="613.79" cy="289.58" r="2.1" fill="#ff8c8c" fill-opacity="0.45"/>
<circle cx="622.16" cy="261.87" r="2.1" fill="#ff8c8c" fill-opacity="0.45"/>
<circle cx="612.89" cy="267.08" r="2.1" fill="#ff8c8c" fill-opacity="0.45"/>
<circle cx="625.16" cy="297.97" r="2.1" fill="#ff8c8c" fill-opacity="0.45"/>
<circle cx="612.82" cy="274.23" r="2.1" fill="#ff8c8c" fill-opacity="0.45"/>
<circle cx="614.10" cy="334.18" r="2.1" fill="#ff8c8c" fill-opacity="0.45"/>
<circle cx="615.85" cy="286.09" r="2.1" fill="#ff8c8c" fill-opacity="0.45"/>
<circle cx="620.37" cy="315.54" r="2.1" fill="#ff8c8c" fill-opacity="0.45"/>
<circle cx="614.30" cy="308.99" r="2.1" fill="#ff8c8c" fill-opacity="0.45"/>
<circle cx="609.75" cy="303.05" r="2.1" fill="#ff8c8c" fill-opacity="0.45"/>
<circle cx="628.72" cy="305.79" r="2.1" fill="#ff8c8c" fill-opacity="0.45"/>
<circle cx="612.61" cy="322.58" r="2.1" fill="#ff8c8c" fill-opacity="0.45"/>
<circle cx="623.52" cy="288.39" r="2.1" fill="#ff8c8c" fill-opacity="0.45"/>
<circle cx="622.15" cy="265.20" r="2.1" fill="#ff8c8c" fill-opacity="0.45"/>
<circle cx="620.24" cy="269.91" r="2.1" fill="#ff8c8c" fill-opacity="0.45"/>
<circle cx="629.93" cy="289.66" r="2.1" fill="#ff8c8c" fill-opacity="0.45"/>
<circle cx="610.72" cy="303.14" r="2.1" fill="#ff8c8c" fill-opacity="0.45"/>
<circle cx="614.32" cy="290.46" r="2.1" fill="#ff8c8c" fill-opacity="0.45"/>
<circle cx="617.40" cy="350.25" r="2.1" fill="#ff8c8c" fill-opacity="0.45"/>
<circle cx="614.55" cy="275.37" r="2.1" fill="#ff8c8c" fill-opacity="0.45"/>
<circle cx="614.46" cy="312.80" r="2.1" fill="#ff8c8c" fill-opacity="0.45"/>
<circle cx="628.04" cy="281.85" r="2.1" fill="#ff8c8c" fill-opacity="0.45"/>
<circle cx="620.37" cy="287.71" r="2.1" fill="#ff8c8c" fill-opacity="0.45"/>
<circle cx="620.91" cy="290.02" r="2.1" fill="#ff8c8c" fill-opacity="0.45"/>
<circle cx="615.60" cy="302.39" r="2.1" fill="#ff8c8c" fill-opacity="0.45"/>
<circle cx="614.25" cy="329.62" r="2.1" fill="#ff8c8c" fill-opacity="0.45"/>
<circle cx="628.68" cy="277.74" r="2.1" fill="#ff8c8c" fill-opacity="0.45"/>
<circle cx="628.49" cy="296.07" r="2.1" fill="#ff8c8c" fill-opacity="0.45"/>
<circle cx="617.99" cy="351.98" r="2.1" fill="#ff8c8c" fill-opacity="0.45"/>
<circle cx="606.37" cy="271.56" r="2.1" fill="#ff8c8c" fill-opacity="0.45"/>
<circle cx="622.72" cy="304.46" r="2.1" fill="#ff8c8c" fill-opacity="0.45"/>
<circle cx="623.17" cy="294.06" r="2.1" fill="#ff8c8c" fill-opacity="0.45"/>
<circle cx="620.48" cy="308.34" r="2.1" fill="#ff8c8c" fill-opacity="0.45"/>
<circle cx="623.27" cy="272.62" r="2.1" fill="#ff8c8c" fill-opacity="0.45"/>
<circle cx="625.84" cy="270.41" r="2.1" fill="#ff8c8c" fill-opacity="0.45"/>
<circle cx="616.10" cy="258.27" r="2.1" fill="#ff8c8c" fill-opacity="0.45"/>
<circle cx="620.24" cy="319.18" r="2.1" fill="#ff8c8c" fill-opacity="0.45"/>
<circle cx="626.14" cy="274.07" r="2.1" fill="#ff8c8c" fill-opacity="0.45"/>
<circle cx="612.51" cy="267.30" r="2.1" fill="#ff8c8c" fill-opacity="0.45"/>
<circle cx="619.45" cy="331.14" r="2.1" fill="#ff8c8c" fill-opacity="0.45"/>
<circle cx="619.15" cy="327.15" r="2.1" fill="#ff8c8c" fill-opacity="0.45"/>
<circle cx="612.98" cy="264.94" r="2.1" fill="#ff8c8c" fill-opacity="0.45"/>
<circle cx="618.08" cy="317.02" r="2.1" fill="#ff8c8c" fill-opacity="0.45"/>
<circle cx="618.31" cy="318.01" r="2.1" fill="#ff8c8c" fill-opacity="0.45"/>
<circle cx="620.13" cy="303.98" r="2.1" fill="#ff8c8c" fill-opacity="0.45"/>
<circle cx="619.59" cy="280.31" r="2.1" fill="#ff8c8c" fill-opacity="0.45"/>
<circle cx="611.53" cy="320.75" r="2.1" fill="#ff8c8c" fill-opacity="0.45"/>
<circle cx="613.53" cy="292.68" r="2.1" fill="#ff8c8c" fill-opacity="0.45"/>
<circle cx="618.10" cy="266.91" r="2.1" fill="#ff8c8c" fill-opacity="0.45"/>
<circle cx="621.01" cy="324.84" r="2.1" fill="#ff8c8c" fill-opacity="0.45"/>
<circle cx="616.14" cy="306.74" r="2.1" fill="#ff8c8c" fill-opacity="0.45"/>
<circle cx="625.28" cy="302.85" r="2.1" fill="#ff8c8c" fill-opacity="0.45"/>
<circle cx="625.84" cy="262.29" r="2.1" fill="#ff8c8c" fill-opacity="0.45"/>
<circle cx="626.95" cy="313.37" r="2.1" fill="#ff8c8c" fill-opacity="0.45"/>
<circle cx="610.72" cy="299.73" r="2.1" fill="#ff8c8c" fill-opacity="0.45"/>
<circle cx="622.03" cy="309.10" r="2.1" fill="#ff8c8c" fill-opacity="0.45"/>
<circle cx="629.47" cy="280.23" r="2.1" fill="#ff8c8c" fill-opacity="0.45"/>
<circle cx="620.60" cy="330.19" r="2.1" fill="#ff8c8c" fill-opacity="0.45"/>
<circle cx="620.23" cy="323.04" r="2.1" fill="#ff8c8c" fill-opacity="0.45"/>
<circle cx="608.74" cy="269.55" r="2.1" fill="#ff8c8c" fill-opacity="0.45"/>
<circle cx="617.95" cy="269.87" r="2.1" fill="#ff8c8c" fill-opacity="0.45"/>
<circle cx="616.90" cy="252.27" r="2.1" fill="#ff8c8c" fill-opacity="0.45"/>
<circle cx="619.85" cy="307.67" r="2.1" fill="#ff8c8c" fill-opacity="0.45"/>
<circle cx="615.14" cy="299.38" r="2.1" fill="#ff8c8c" fill-opacity="0.45"/>
<circle cx="613.20" cy="260.99" r="2.1" fill="#ff8c8c" fill-opacity="0.45"/>
<circle cx="618.83" cy="286.79" r="2.1" fill="#ff8c8c" fill-opacity="0.45"/>
<circle cx="623.35" cy="316.57" r="2.1" fill="#ff8c8c" fill-opacity="0.45"/>
<circle cx="617.17" cy="325.86" r="2.1" fill="#ff8c8c" fill-opacity="0.45"/>
<circle cx="613.99" cy="257.35" r="2.1" fill="#ff8c8c" fill-opacity="0.45"/>
<line x1="618.30" y1="248.90" x2="618.30" y2="362.70" stroke="#8c8c8c" stroke-width="0.5" />
<rect x="616.70" y="274.00" width="3.20" height="37.10" fill="#7a7a7a" />
<circle cx="618.30" cy="291.00" r="2.5" fill="#ffffff" stroke="#8a8a8a" stroke-width="0.4"/>
<path d="M664.60,260.20 L664.86,262.19 L665.20,264.98 L665.62,268.27 L666.11,271.76 L666.67,275.17 L667.30,278.20 L668.06,280.84 L668.96,283.32 L669.92,285.72 L670.90,288.10 L671.81,290.54 L672.60,293.10 L673.31,295.82 L674.02,298.66 L674.67,301.55 L675.20,304.44 L675.56,307.28 L675.70,310.00 L675.57,312.60 L675.20,315.11 L674.67,317.57 L674.03,320.01 L673.35,322.44 L672.70,324.90 L672.02,327.43 L671.25,330.03 L670.44,332.62 L669.65,335.15 L668.92,337.57 L668.30,339.80 L667.79,341.94 L667.35,344.04 L666.98,346.03 L666.66,347.81 L666.40,349.30 L666.20,350.40 L658.80,350.40 L658.60,349.30 L658.34,347.81 L658.02,346.03 L657.65,344.04 L657.21,341.94 L656.70,339.80 L656.08,337.57 L655.35,335.15 L654.56,332.62 L653.75,330.03 L652.98,327.43 L652.30,324.90 L651.65,322.44 L650.97,320.01 L650.33,317.57 L649.80,315.11 L649.43,312.60 L649.30,310.00 L649.44,307.28 L649.80,304.44 L650.33,301.55 L650.98,298.66 L651.69,295.82 L652.40,293.10 L653.19,290.54 L654.10,288.10 L655.08,285.72 L656.04,283.32 L656.94,280.84 L657.70,278.20 L658.33,275.17 L658.89,271.76 L659.38,268.27 L659.80,264.98 L660.14,262.19 L660.40,260.20 Z" fill="#dcefff" stroke="#8c8c8c" stroke-width="0.6" />
<circle cx="659.40" cy="301.96" r="2.1" fill="#b4d9f7" fill-opacity="0.45"/>
<circle cx="672.73" cy="305.55" r="2.1" fill="#b4d9f7" fill-opacity="0.45"/>
<circle cx="665.58" cy="310.20" r="2.1" fill="#b4d9f7" fill-opacity="0.45"/>
<circle cx="666.75" cy="294.39" r="2.1" fill="#b4d9f7" fill-opacity="0.45"/>
<circle cx="655.63" cy="325.60" r="2.1" fill="#b4d9f7" fill-opacity="0.45"/>
<circle cx="669.60" cy="313.46" r="2.1" fill="#b4d9f7" fill-opacity="0.45"/>
<circle cx="654.93" cy="327.50" r="2.1" fill="#b4d9f7" fill-opacity="0.45"/>
<circle cx="667.58" cy="321.02" r="2.1" fill="#b4d9f7" fill-opacity="0.45"/>
<circle cx="661.05" cy="268.11" r="2.1" fill="#b4d9f7" fill-opacity="0.45"/>
<circle cx="667.06" cy="285.56" r="2.1" fill="#b4d9f7" fill-opacity="0.45"/>
<circle cx="666.84" cy="340.15" r="2.1" fill="#b4d9f7" fill-opacity="0.45"/>
<circle cx="662.33" cy="294.37" r="2.1" fill="#b4d9f7" fill-opacity="0.45"/>
<circle cx="671.84" cy="298.51" r="2.1" fill="#b4d9f7" fill-opacity="0.45"/>
<circle cx="652.76" cy="314.04" r="2.1" fill="#b4d9f7" fill-opacity="0.45"/>
<circle cx="659.22" cy="340.96" r="2.1" fill="#b4d9f7" fill-opacity="0.45"/>
<circle cx="662.74" cy="267.73" r="2.1" fill="#b4d9f7" fill-opacity="0.45"/>
<circle cx="660.18" cy="298.09" r="2.1" fill="#b4d9f7" fill-opacity="0.45"/>
<circle cx="663.01" cy="268.63" r="2.1" fill="#b4d9f7" fill-opacity="0.45"/>
<circle cx="674.14" cy="315.12" r="2.1" fill="#b4d9f7" fill-opacity="0.45"/>
<circle cx="665.31" cy="310.27" r="2.1" fill="#b4d9f7" fill-opacity="0.45"/>
<circle cx="669.61" cy="313.44" r="2.1" fill="#b4d9f7" fill-opacity="0.45"/>
<circle cx="669.50" cy="291.52" r="2.1" fill="#b4d9f7" fill-opacity="0.45"/>
<circle cx="659.74" cy="332.30" r="2.1" fill="#b4d9f7" fill-opacity="0.45"/>
<circle cx="661.92" cy="279.45" r="2.1" fill="#b4d9f7" fill-opacity="0.45"/>
<circle cx="663.31" cy="268.21" r="2.1" fill="#b4d9f7" fill-opacity="0.45"/>
<circle cx="667.77" cy="330.62" r="2.1" fill="#b4d9f7" fill-opacity="0.45"/>
<circle cx="657.27" cy="324.19" r="2.1" fill="#b4d9f7" fill-opacity="0.45"/>
<circle cx="665.92" cy="293.52" r="2.1" fill="#b4d9f7" fill-opacity="0.45"/>
<circle cx="659.22" cy="336.26" r="2.1" fill="#b4d9f7" fill-opacity="0.45"/>
<circle cx="663.34" cy="349.15" r="2.1" fill="#b4d9f7" fill-opacity="0.45"/>
<line x1="662.50" y1="260.20" x2="662.50" y2="350.40" stroke="#8c8c8c" stroke-width="0.5" />
<rect x="660.90" y="297.70" width="3.20" height="26.10" fill="#7a7a7a" />
<circle cx="662.50" cy="312.60" r="2.5" fill="#ffffff" stroke="#8a8a8a" stroke-width="0.4"/>
<text x="2.10" y="408.90" font-size="11.2" font-weight="bold" textLength="8.07" lengthAdjust="spacingAndGlyphs">h</text>
<text x="58.70" y="411.00" font-size="9" textLength="121.40" lengthAdjust="spacingAndGlyphs">Mutations associated with TBB</text>
<line x1="33.50" y1="418.60" x2="33.50" y2="532.40" stroke="#7b7c7e" stroke-width="1.0" />
<line x1="29.30" y1="532.50" x2="33.30" y2="532.50" stroke="#7b7c7e" stroke-width="1.0" />
<text x="25.50" y="535.00" font-size="7.5" text-anchor="end" fill="#231f20" textLength="4.80" lengthAdjust="spacingAndGlyphs">0</text>
<line x1="29.30" y1="503.50" x2="33.30" y2="503.50" stroke="#7b7c7e" stroke-width="1.0" />
<text x="25.50" y="506.55" font-size="7.5" text-anchor="end" fill="#231f20" textLength="4.80" lengthAdjust="spacingAndGlyphs">1</text>
<line x1="29.30" y1="475.50" x2="33.30" y2="475.50" stroke="#7b7c7e" stroke-width="1.0" />
<text x="25.50" y="478.10" font-size="7.5" text-anchor="end" fill="#231f20" textLength="4.80" lengthAdjust="spacingAndGlyphs">2</text>
<line x1="29.30" y1="447.50" x2="33.30" y2="447.50" stroke="#7b7c7e" stroke-width="1.0" />
<text x="25.50" y="449.65" font-size="7.5" text-anchor="end" fill="#231f20" textLength="4.80" lengthAdjust="spacingAndGlyphs">3</text>
<line x1="29.30" y1="418.50" x2="33.30" y2="418.50" stroke="#7b7c7e" stroke-width="1.0" />
<text x="25.50" y="421.20" font-size="7.5" text-anchor="end" fill="#231f20" textLength="4.80" lengthAdjust="spacingAndGlyphs">4</text>
<line x1="33.30" y1="532.50" x2="204.40" y2="532.50" stroke="#7b7c7e" stroke-width="1.0" />
<line x1="33.50" y1="532.40" x2="33.50" y2="536.00" stroke="#7b7c7e" stroke-width="1.0" />
<text x="33.70" y="546.60" font-size="7.5" text-anchor="middle" fill="#231f20" textLength="9.83" lengthAdjust="spacingAndGlyphs">−2</text>
<line x1="76.50" y1="532.40" x2="76.50" y2="536.00" stroke="#7b7c7e" stroke-width="1.0" />
<text x="76.50" y="546.60" font-size="7.5" text-anchor="middle" fill="#231f20" textLength="9.83" lengthAdjust="spacingAndGlyphs">−1</text>
<line x1="119.50" y1="532.40" x2="119.50" y2="536.00" stroke="#7b7c7e" stroke-width="1.0" />
<text x="119.40" y="546.60" font-size="7.5" text-anchor="middle" fill="#231f20" textLength="4.80" lengthAdjust="spacingAndGlyphs">0</text>
<line x1="161.50" y1="532.40" x2="161.50" y2="536.00" stroke="#7b7c7e" stroke-width="1.0" />
<text x="161.90" y="546.60" font-size="7.5" text-anchor="middle" fill="#231f20" textLength="4.80" lengthAdjust="spacingAndGlyphs">1</text>
<line x1="204.50" y1="532.40" x2="204.50" y2="536.00" stroke="#7b7c7e" stroke-width="1.0" />
<text x="204.40" y="546.60" font-size="7.5" text-anchor="middle" fill="#231f20" textLength="4.80" lengthAdjust="spacingAndGlyphs">2</text>
<text x="74.60" y="560.50" font-size="9" textLength="88.00" lengthAdjust="spacingAndGlyphs">log(Difference in TBB)</text>
<text x="0" y="0" font-size="9" transform="translate(11.40,475.00) rotate(-90)" text-anchor="middle">−log<tspan font-size="6.2" dy="1.8">10</tspan><tspan dy="-1.8" font-style="italic">P</tspan></text>
<line x1="36.90" y1="567.50" x2="201.80" y2="567.50" stroke="#3f5373" stroke-width="1.15" />
<path d="M33.90,567.50 L38.90,565.30 L37.65,567.50 L38.90,569.70 Z" fill="#3f5373" />
<path d="M204.80,567.50 L199.80,565.30 L201.05,567.50 L199.80,569.70 Z" fill="#3f5373" />
<text x="64.70" y="578.70" font-size="9" text-anchor="middle" fill="#2b2bff">TBB lower</text>
<text x="64.70" y="588.80" font-size="9" text-anchor="middle" fill="#2b2bff">in mutants</text>
<text x="168.00" y="578.70" font-size="9" text-anchor="middle" fill="#e0202a">TBB higher</text>
<text x="168.20" y="588.80" font-size="9" text-anchor="middle" fill="#e0202a">in mutants</text>
<circle cx="100.97" cy="518.09" r="1.8" fill="#a7a9ac" />
<circle cx="102.87" cy="518.99" r="1.8" fill="#a7a9ac" />
<circle cx="107.04" cy="525.67" r="1.8" fill="#a7a9ac" />
<circle cx="88.72" cy="509.76" r="1.8" fill="#a7a9ac" />
<circle cx="119.09" cy="531.25" r="1.8" fill="#a7a9ac" />
<circle cx="107.86" cy="519.91" r="1.8" fill="#a7a9ac" />
<circle cx="92.01" cy="507.76" r="1.8" fill="#a7a9ac" />
<circle cx="103.25" cy="520.71" r="1.8" fill="#a7a9ac" />
<circle cx="102.59" cy="521.43" r="1.8" fill="#a7a9ac" />
<circle cx="101.14" cy="508.94" r="1.8" fill="#a7a9ac" />
<circle cx="119.62" cy="532.26" r="1.8" fill="#a7a9ac" />
<circle cx="114.24" cy="522.90" r="1.8" fill="#a7a9ac" />
<circle cx="96.28" cy="507.36" r="1.8" fill="#a7a9ac" />
<circle cx="95.39" cy="502.18" r="1.8" fill="#a7a9ac" />
<circle cx="111.71" cy="512.91" r="1.8" fill="#a7a9ac" />
<circle cx="88.48" cy="510.71" r="1.8" fill="#a7a9ac" />
<circle cx="89.54" cy="507.91" r="1.8" fill="#a7a9ac" />
<circle cx="104.63" cy="514.44" r="1.8" fill="#a7a9ac" />
<circle cx="89.48" cy="513.57" r="1.8" fill="#a7a9ac" />
<circle cx="92.78" cy="508.67" r="1.8" fill="#a7a9ac" />
<circle cx="92.71" cy="512.71" r="1.8" fill="#a7a9ac" />
<circle cx="92.79" cy="508.29" r="1.8" fill="#a7a9ac" />
<circle cx="95.63" cy="502.29" r="1.8" fill="#a7a9ac" />
<circle cx="98.21" cy="514.63" r="1.8" fill="#a7a9ac" />
<circle cx="91.75" cy="504.91" r="1.8" fill="#a7a9ac" />
<circle cx="116.57" cy="526.48" r="1.8" fill="#a7a9ac" />
<circle cx="94.03" cy="506.07" r="1.8" fill="#a7a9ac" />
<circle cx="99.91" cy="503.27" r="1.8" fill="#a7a9ac" />
<circle cx="105.90" cy="509.44" r="1.8" fill="#a7a9ac" />
<circle cx="106.51" cy="509.01" r="1.8" fill="#a7a9ac" />
<circle cx="91.53" cy="511.89" r="1.8" fill="#a7a9ac" />
<circle cx="109.14" cy="518.89" r="1.8" fill="#a7a9ac" />
<circle cx="101.99" cy="523.64" r="1.8" fill="#a7a9ac" />
<circle cx="110.71" cy="522.77" r="1.8" fill="#a7a9ac" />
<circle cx="116.31" cy="528.21" r="1.8" fill="#a7a9ac" />
<circle cx="106.87" cy="512.33" r="1.8" fill="#a7a9ac" />
<circle cx="105.43" cy="519.69" r="1.8" fill="#a7a9ac" />
<circle cx="110.40" cy="512.52" r="1.8" fill="#a7a9ac" />
<circle cx="110.64" cy="518.78" r="1.8" fill="#a7a9ac" />
<circle cx="101.95" cy="507.38" r="1.8" fill="#a7a9ac" />
<circle cx="109.38" cy="516.06" r="1.8" fill="#a7a9ac" />
<circle cx="94.25" cy="500.27" r="1.8" fill="#a7a9ac" />
<circle cx="92.43" cy="505.41" r="1.8" fill="#a7a9ac" />
<circle cx="92.29" cy="513.90" r="1.8" fill="#a7a9ac" />
<circle cx="105.44" cy="510.19" r="1.8" fill="#a7a9ac" />
<circle cx="114.13" cy="527.48" r="1.8" fill="#a7a9ac" />
<circle cx="94.97" cy="505.40" r="1.8" fill="#a7a9ac" />
<circle cx="100.91" cy="508.84" r="1.8" fill="#a7a9ac" />
<circle cx="92.82" cy="513.35" r="1.8" fill="#a7a9ac" />
<circle cx="106.90" cy="515.95" r="1.8" fill="#a7a9ac" />
<circle cx="109.74" cy="518.44" r="1.8" fill="#a7a9ac" />
<circle cx="107.02" cy="514.41" r="1.8" fill="#a7a9ac" />
<circle cx="107.04" cy="521.19" r="1.8" fill="#a7a9ac" />
<circle cx="101.75" cy="505.71" r="1.8" fill="#a7a9ac" />
<circle cx="94.81" cy="511.14" r="1.8" fill="#a7a9ac" />
<circle cx="109.35" cy="516.81" r="1.8" fill="#a7a9ac" />
<circle cx="106.51" cy="524.48" r="1.8" fill="#a7a9ac" />
<circle cx="89.94" cy="514.64" r="1.8" fill="#a7a9ac" />
<circle cx="98.39" cy="518.39" r="1.8" fill="#a7a9ac" />
<circle cx="115.57" cy="525.79" r="1.8" fill="#a7a9ac" />
<circle cx="110.19" cy="526.50" r="1.8" fill="#a7a9ac" />
<circle cx="107.44" cy="523.22" r="1.8" fill="#a7a9ac" />
<circle cx="119.03" cy="531.66" r="1.8" fill="#a7a9ac" />
<circle cx="103.86" cy="525.60" r="1.8" fill="#a7a9ac" />
<circle cx="104.32" cy="524.87" r="1.8" fill="#a7a9ac" />
<circle cx="90.31" cy="504.73" r="1.8" fill="#a7a9ac" />
<circle cx="103.17" cy="523.42" r="1.8" fill="#a7a9ac" />
<circle cx="114.23" cy="522.30" r="1.8" fill="#a7a9ac" />
<circle cx="107.35" cy="516.89" r="1.8" fill="#a7a9ac" />
<circle cx="96.16" cy="512.29" r="1.8" fill="#a7a9ac" />
<circle cx="114.41" cy="529.17" r="1.8" fill="#a7a9ac" />
<circle cx="105.10" cy="506.43" r="1.8" fill="#a7a9ac" />
<circle cx="103.83" cy="516.25" r="1.8" fill="#a7a9ac" />
<circle cx="104.75" cy="515.86" r="1.8" fill="#a7a9ac" />
<circle cx="103.92" cy="513.35" r="1.8" fill="#a7a9ac" />
<circle cx="118.22" cy="529.91" r="1.8" fill="#a7a9ac" />
<circle cx="94.71" cy="515.28" r="1.8" fill="#a7a9ac" />
<circle cx="89.84" cy="513.99" r="1.8" fill="#a7a9ac" />
<circle cx="101.80" cy="510.21" r="1.8" fill="#a7a9ac" />
<circle cx="92.14" cy="507.29" r="1.8" fill="#a7a9ac" />
<circle cx="109.00" cy="510.37" r="1.8" fill="#a7a9ac" />
<circle cx="94.07" cy="506.33" r="1.8" fill="#a7a9ac" />
<circle cx="103.64" cy="514.10" r="1.8" fill="#a7a9ac" />
<circle cx="98.35" cy="513.34" r="1.8" fill="#a7a9ac" />
<circle cx="103.60" cy="505.09" r="1.8" fill="#a7a9ac" />
<circle cx="107.34" cy="517.11" r="1.8" fill="#a7a9ac" />
<circle cx="110.83" cy="526.24" r="1.8" fill="#a7a9ac" />
<circle cx="94.37" cy="503.05" r="1.8" fill="#a7a9ac" />
<circle cx="99.28" cy="522.17" r="1.8" fill="#a7a9ac" />
<circle cx="102.79" cy="524.54" r="1.8" fill="#a7a9ac" />
<circle cx="102.70" cy="522.18" r="1.8" fill="#a7a9ac" />
<circle cx="91.96" cy="502.19" r="1.8" fill="#a7a9ac" />
<circle cx="104.37" cy="516.63" r="1.8" fill="#a7a9ac" />
<circle cx="91.81" cy="506.53" r="1.8" fill="#a7a9ac" />
<circle cx="96.68" cy="515.08" r="1.8" fill="#a7a9ac" />
<circle cx="103.12" cy="513.88" r="1.8" fill="#a7a9ac" />
<circle cx="109.48" cy="527.34" r="1.8" fill="#a7a9ac" />
<circle cx="91.70" cy="514.65" r="1.8" fill="#a7a9ac" />
<circle cx="110.79" cy="513.07" r="1.8" fill="#a7a9ac" />
<circle cx="92.17" cy="505.26" r="1.8" fill="#a7a9ac" />
<circle cx="116.05" cy="525.96" r="1.8" fill="#a7a9ac" />
<circle cx="109.60" cy="527.87" r="1.8" fill="#a7a9ac" />
<circle cx="107.03" cy="513.05" r="1.8" fill="#a7a9ac" />
<circle cx="106.01" cy="516.29" r="1.8" fill="#a7a9ac" />
<circle cx="110.96" cy="525.18" r="1.8" fill="#a7a9ac" />
<circle cx="116.16" cy="528.49" r="1.8" fill="#a7a9ac" />
<circle cx="109.26" cy="524.84" r="1.8" fill="#a7a9ac" />
<circle cx="111.67" cy="513.09" r="1.8" fill="#a7a9ac" />
<circle cx="97.19" cy="515.14" r="1.8" fill="#a7a9ac" />
<circle cx="107.34" cy="520.18" r="1.8" fill="#a7a9ac" />
<circle cx="108.28" cy="510.88" r="1.8" fill="#a7a9ac" />
<circle cx="108.06" cy="518.41" r="1.8" fill="#a7a9ac" />
<circle cx="103.73" cy="512.56" r="1.8" fill="#a7a9ac" />
<circle cx="109.48" cy="524.66" r="1.8" fill="#a7a9ac" />
<circle cx="106.55" cy="523.91" r="1.8" fill="#a7a9ac" />
<circle cx="94.28" cy="512.95" r="1.8" fill="#a7a9ac" />
<circle cx="98.35" cy="503.10" r="1.8" fill="#a7a9ac" />
<circle cx="104.31" cy="516.40" r="1.8" fill="#a7a9ac" />
<circle cx="105.94" cy="524.58" r="1.8" fill="#a7a9ac" />
<circle cx="103.52" cy="519.33" r="1.8" fill="#a7a9ac" />
<circle cx="98.00" cy="509.19" r="1.8" fill="#a7a9ac" />
<circle cx="107.90" cy="518.12" r="1.8" fill="#a7a9ac" />
<circle cx="95.62" cy="500.36" r="1.8" fill="#a7a9ac" />
<circle cx="93.88" cy="501.29" r="1.8" fill="#a7a9ac" />
<circle cx="100.19" cy="515.42" r="1.8" fill="#a7a9ac" />
<circle cx="110.22" cy="515.12" r="1.8" fill="#a7a9ac" />
<circle cx="106.85" cy="514.71" r="1.8" fill="#a7a9ac" />
<circle cx="92.47" cy="501.59" r="1.8" fill="#a7a9ac" />
<circle cx="103.56" cy="503.94" r="1.8" fill="#a7a9ac" />
<circle cx="100.65" cy="521.61" r="1.8" fill="#a7a9ac" />
<circle cx="101.08" cy="508.42" r="1.8" fill="#a7a9ac" />
<circle cx="105.41" cy="513.53" r="1.8" fill="#a7a9ac" />
<circle cx="112.11" cy="517.15" r="1.8" fill="#a7a9ac" />
<circle cx="112.32" cy="520.21" r="1.8" fill="#a7a9ac" />
<circle cx="97.78" cy="508.72" r="1.8" fill="#a7a9ac" />
<circle cx="108.93" cy="518.26" r="1.8" fill="#a7a9ac" />
<circle cx="105.74" cy="520.48" r="1.8" fill="#a7a9ac" />
<circle cx="116.82" cy="528.46" r="1.8" fill="#a7a9ac" />
<circle cx="94.77" cy="513.72" r="1.8" fill="#a7a9ac" />
<circle cx="104.33" cy="520.41" r="1.8" fill="#a7a9ac" />
<circle cx="98.26" cy="515.45" r="1.8" fill="#a7a9ac" />
<circle cx="92.70" cy="511.07" r="1.8" fill="#a7a9ac" />
<circle cx="110.97" cy="527.15" r="1.8" fill="#a7a9ac" />
<circle cx="113.17" cy="520.17" r="1.8" fill="#a7a9ac" />
<circle cx="100.01" cy="508.29" r="1.8" fill="#a7a9ac" />
<circle cx="100.13" cy="511.90" r="1.8" fill="#a7a9ac" />
<circle cx="104.80" cy="515.66" r="1.8" fill="#a7a9ac" />
<circle cx="108.94" cy="509.61" r="1.8" fill="#a7a9ac" />
<circle cx="88.29" cy="509.77" r="1.8" fill="#a7a9ac" />
<circle cx="110.29" cy="522.45" r="1.8" fill="#a7a9ac" />
<circle cx="95.18" cy="504.54" r="1.8" fill="#a7a9ac" />
<circle cx="98.03" cy="503.71" r="1.8" fill="#a7a9ac" />
<circle cx="109.76" cy="518.40" r="1.8" fill="#a7a9ac" />
<circle cx="116.91" cy="530.45" r="1.8" fill="#a7a9ac" />
<circle cx="96.36" cy="512.89" r="1.8" fill="#a7a9ac" />
<circle cx="117.47" cy="528.98" r="1.8" fill="#a7a9ac" />
<circle cx="93.99" cy="511.66" r="1.8" fill="#a7a9ac" />
<circle cx="98.00" cy="511.71" r="1.8" fill="#a7a9ac" />
<circle cx="99.03" cy="512.50" r="1.8" fill="#a7a9ac" />
<circle cx="112.76" cy="517.47" r="1.8" fill="#a7a9ac" />
<circle cx="104.11" cy="518.34" r="1.8" fill="#a7a9ac" />
<circle cx="104.20" cy="525.51" r="1.8" fill="#a7a9ac" />
<circle cx="107.70" cy="507.88" r="1.8" fill="#a7a9ac" />
<circle cx="103.34" cy="524.75" r="1.8" fill="#a7a9ac" />
<circle cx="98.99" cy="510.88" r="1.8" fill="#a7a9ac" />
<circle cx="102.38" cy="517.36" r="1.8" fill="#a7a9ac" />
<circle cx="110.16" cy="522.91" r="1.8" fill="#a7a9ac" />
<circle cx="113.76" cy="521.57" r="1.8" fill="#a7a9ac" />
<circle cx="114.69" cy="526.09" r="1.8" fill="#a7a9ac" />
<circle cx="114.02" cy="528.78" r="1.8" fill="#a7a9ac" />
<circle cx="103.42" cy="522.98" r="1.8" fill="#a7a9ac" />
<circle cx="99.88" cy="504.65" r="1.8" fill="#a7a9ac" />
<circle cx="98.34" cy="505.35" r="1.8" fill="#a7a9ac" />
<circle cx="92.49" cy="513.71" r="1.8" fill="#a7a9ac" />
<circle cx="91.81" cy="506.96" r="1.8" fill="#a7a9ac" />
<circle cx="105.84" cy="507.18" r="1.8" fill="#a7a9ac" />
<circle cx="91.83" cy="509.03" r="1.8" fill="#a7a9ac" />
<circle cx="102.01" cy="507.08" r="1.8" fill="#a7a9ac" />
<circle cx="103.54" cy="516.66" r="1.8" fill="#a7a9ac" />
<circle cx="107.99" cy="507.62" r="1.8" fill="#a7a9ac" />
<circle cx="109.89" cy="519.60" r="1.8" fill="#a7a9ac" />
<circle cx="90.88" cy="505.00" r="1.8" fill="#a7a9ac" />
<circle cx="96.51" cy="508.33" r="1.8" fill="#a7a9ac" />
<circle cx="114.44" cy="526.62" r="1.8" fill="#a7a9ac" />
<circle cx="101.92" cy="515.13" r="1.8" fill="#a7a9ac" />
<circle cx="104.08" cy="516.98" r="1.8" fill="#a7a9ac" />
<circle cx="96.15" cy="510.00" r="1.8" fill="#a7a9ac" />
<circle cx="88.10" cy="509.84" r="1.8" fill="#a7a9ac" />
<circle cx="101.48" cy="523.14" r="1.8" fill="#a7a9ac" />
<circle cx="89.12" cy="512.71" r="1.8" fill="#a7a9ac" />
<circle cx="132.47" cy="525.46" r="1.8" fill="#a7a9ac" />
<circle cx="137.63" cy="514.14" r="1.8" fill="#a7a9ac" />
<circle cx="127.07" cy="528.83" r="1.8" fill="#a7a9ac" />
<circle cx="138.28" cy="524.23" r="1.8" fill="#a7a9ac" />
<circle cx="134.72" cy="525.55" r="1.8" fill="#a7a9ac" />
<circle cx="124.06" cy="530.93" r="1.8" fill="#a7a9ac" />
<circle cx="128.77" cy="519.90" r="1.8" fill="#a7a9ac" />
<circle cx="121.34" cy="531.13" r="1.8" fill="#a7a9ac" />
<circle cx="136.42" cy="514.60" r="1.8" fill="#a7a9ac" />
<circle cx="138.44" cy="512.13" r="1.8" fill="#a7a9ac" />
<circle cx="124.31" cy="528.95" r="1.8" fill="#a7a9ac" />
<circle cx="130.47" cy="520.21" r="1.8" fill="#a7a9ac" />
<circle cx="135.73" cy="521.49" r="1.8" fill="#a7a9ac" />
<circle cx="129.29" cy="518.99" r="1.8" fill="#a7a9ac" />
<circle cx="138.26" cy="525.82" r="1.8" fill="#a7a9ac" />
<circle cx="129.47" cy="522.25" r="1.8" fill="#a7a9ac" />
<circle cx="141.49" cy="522.00" r="1.8" fill="#a7a9ac" />
<circle cx="131.27" cy="522.42" r="1.8" fill="#a7a9ac" />
<circle cx="130.14" cy="527.98" r="1.8" fill="#a7a9ac" />
<circle cx="124.49" cy="526.31" r="1.8" fill="#a7a9ac" />
<circle cx="128.96" cy="525.01" r="1.8" fill="#a7a9ac" />
<circle cx="124.21" cy="531.33" r="1.8" fill="#a7a9ac" />
<circle cx="140.43" cy="518.52" r="1.8" fill="#a7a9ac" />
<circle cx="128.37" cy="528.32" r="1.8" fill="#a7a9ac" />
<circle cx="125.87" cy="522.60" r="1.8" fill="#a7a9ac" />
<circle cx="132.54" cy="524.79" r="1.8" fill="#a7a9ac" />
<circle cx="127.54" cy="530.21" r="1.8" fill="#a7a9ac" />
<circle cx="133.56" cy="526.31" r="1.8" fill="#a7a9ac" />
<circle cx="138.66" cy="515.71" r="1.8" fill="#a7a9ac" />
<circle cx="138.08" cy="526.27" r="1.8" fill="#a7a9ac" />
<circle cx="123.24" cy="530.50" r="1.8" fill="#a7a9ac" />
<circle cx="131.01" cy="516.31" r="1.8" fill="#a7a9ac" />
<circle cx="134.76" cy="524.74" r="1.8" fill="#a7a9ac" />
<circle cx="140.16" cy="520.19" r="1.8" fill="#a7a9ac" />
<circle cx="140.93" cy="523.76" r="1.8" fill="#a7a9ac" />
<circle cx="129.05" cy="519.11" r="1.8" fill="#a7a9ac" />
<circle cx="139.49" cy="523.39" r="1.8" fill="#a7a9ac" />
<circle cx="134.09" cy="528.36" r="1.8" fill="#a7a9ac" />
<circle cx="129.20" cy="517.87" r="1.8" fill="#a7a9ac" />
<circle cx="134.27" cy="524.69" r="1.8" fill="#a7a9ac" />
<circle cx="138.55" cy="519.67" r="1.8" fill="#a7a9ac" />
<circle cx="128.40" cy="526.08" r="1.8" fill="#a7a9ac" />
<circle cx="128.11" cy="526.31" r="1.8" fill="#a7a9ac" />
<circle cx="144.84" cy="519.04" r="1.8" fill="#a7a9ac" />
<circle cx="131.64" cy="514.95" r="1.8" fill="#a7a9ac" />
<circle cx="137.65" cy="518.51" r="1.8" fill="#a7a9ac" />
<circle cx="129.39" cy="517.15" r="1.8" fill="#a7a9ac" />
<circle cx="125.63" cy="531.21" r="1.8" fill="#a7a9ac" />
<circle cx="133.18" cy="526.36" r="1.8" fill="#a7a9ac" />
<circle cx="126.42" cy="521.11" r="1.8" fill="#a7a9ac" />
<circle cx="125.82" cy="522.84" r="1.8" fill="#a7a9ac" />
<circle cx="140.18" cy="519.70" r="1.8" fill="#a7a9ac" />
<circle cx="137.81" cy="525.59" r="1.8" fill="#a7a9ac" />
<circle cx="138.01" cy="518.71" r="1.8" fill="#a7a9ac" />
<circle cx="139.40" cy="518.09" r="1.8" fill="#a7a9ac" />
<circle cx="133.15" cy="518.94" r="1.8" fill="#a7a9ac" />
<circle cx="125.77" cy="522.97" r="1.8" fill="#a7a9ac" />
<circle cx="141.32" cy="517.28" r="1.8" fill="#a7a9ac" />
<circle cx="143.84" cy="518.06" r="1.8" fill="#a7a9ac" />
<circle cx="140.80" cy="520.07" r="1.8" fill="#a7a9ac" />
<circle cx="136.32" cy="516.79" r="1.8" fill="#a7a9ac" />
<circle cx="130.65" cy="519.35" r="1.8" fill="#a7a9ac" />
<circle cx="130.05" cy="519.79" r="1.8" fill="#a7a9ac" />
<circle cx="141.41" cy="514.74" r="1.8" fill="#a7a9ac" />
<circle cx="129.35" cy="527.16" r="1.8" fill="#a7a9ac" />
<circle cx="125.38" cy="530.36" r="1.8" fill="#a7a9ac" />
<circle cx="124.09" cy="526.75" r="1.8" fill="#a7a9ac" />
<circle cx="134.13" cy="520.87" r="1.8" fill="#a7a9ac" />
<circle cx="133.89" cy="525.33" r="1.8" fill="#a7a9ac" />
<circle cx="141.24" cy="522.12" r="1.8" fill="#a7a9ac" />
<circle cx="136.80" cy="521.28" r="1.8" fill="#a7a9ac" />
<circle cx="136.76" cy="519.55" r="1.8" fill="#a7a9ac" />
<circle cx="130.86" cy="522.37" r="1.8" fill="#a7a9ac" />
<circle cx="138.93" cy="517.13" r="1.8" fill="#a7a9ac" />
<circle cx="131.18" cy="519.93" r="1.8" fill="#a7a9ac" />
<circle cx="136.05" cy="527.59" r="1.8" fill="#a7a9ac" />
<circle cx="132.49" cy="515.54" r="1.8" fill="#a7a9ac" />
<circle cx="140.06" cy="520.32" r="1.8" fill="#a7a9ac" />
<circle cx="134.31" cy="517.95" r="1.8" fill="#a7a9ac" />
<circle cx="144.81" cy="518.97" r="1.8" fill="#a7a9ac" />
<circle cx="135.84" cy="525.72" r="1.8" fill="#a7a9ac" />
<circle cx="132.68" cy="527.08" r="1.8" fill="#a7a9ac" />
<circle cx="128.84" cy="519.40" r="1.8" fill="#a7a9ac" />
<circle cx="132.75" cy="515.28" r="1.8" fill="#a7a9ac" />
<circle cx="136.50" cy="522.79" r="1.8" fill="#a7a9ac" />
<circle cx="129.43" cy="516.07" r="1.8" fill="#a7a9ac" />
<circle cx="130.07" cy="524.47" r="1.8" fill="#a7a9ac" />
<circle cx="126.48" cy="520.21" r="1.8" fill="#a7a9ac" />
<circle cx="136.70" cy="514.80" r="1.8" fill="#a7a9ac" />
<circle cx="134.44" cy="524.11" r="1.8" fill="#a7a9ac" />
<circle cx="135.23" cy="519.32" r="1.8" fill="#a7a9ac" />
<circle cx="128.03" cy="518.81" r="1.8" fill="#a7a9ac" />
<circle cx="133.22" cy="521.12" r="1.8" fill="#a7a9ac" />
<circle cx="129.58" cy="518.70" r="1.8" fill="#a7a9ac" />
<circle cx="144.93" cy="517.53" r="1.8" fill="#a7a9ac" />
<circle cx="128.64" cy="525.47" r="1.8" fill="#a7a9ac" />
<circle cx="130.39" cy="522.35" r="1.8" fill="#a7a9ac" />
<circle cx="137.12" cy="512.62" r="1.8" fill="#a7a9ac" />
<circle cx="137.77" cy="513.23" r="1.8" fill="#a7a9ac" />
<circle cx="126.43" cy="528.82" r="1.8" fill="#a7a9ac" />
<circle cx="80.90" cy="499.20" r="1.8" fill="#a7a9ac" />
<circle cx="81.60" cy="503.10" r="1.8" fill="#a7a9ac" />
<circle cx="84.20" cy="496.60" r="1.8" fill="#a7a9ac" />
<circle cx="87.50" cy="499.20" r="1.8" fill="#a7a9ac" />
<circle cx="93.40" cy="495.90" r="1.8" fill="#a7a9ac" />
<circle cx="100.60" cy="499.20" r="1.8" fill="#a7a9ac" />
<circle cx="104.60" cy="495.90" r="1.8" fill="#a7a9ac" />
<circle cx="105.20" cy="499.90" r="1.8" fill="#a7a9ac" />
<circle cx="84.90" cy="513.00" r="1.8" fill="#a7a9ac" />
<circle cx="91.40" cy="516.30" r="1.8" fill="#a7a9ac" />
<circle cx="96.00" cy="515.60" r="1.8" fill="#a7a9ac" />
<circle cx="82.00" cy="501.00" r="1.8" fill="#a7a9ac" />
<circle cx="125.00" cy="513.70" r="1.8" fill="#a7a9ac" />
<circle cx="132.80" cy="507.70" r="1.8" fill="#a7a9ac" />
<circle cx="133.50" cy="511.70" r="1.8" fill="#a7a9ac" />
<circle cx="139.40" cy="499.90" r="1.8" fill="#a7a9ac" />
<circle cx="142.70" cy="503.10" r="1.8" fill="#a7a9ac" />
<circle cx="141.40" cy="507.10" r="1.8" fill="#a7a9ac" />
<circle cx="146.00" cy="507.10" r="1.8" fill="#a7a9ac" />
<circle cx="151.20" cy="499.90" r="1.8" fill="#a7a9ac" />
<circle cx="151.90" cy="505.10" r="1.8" fill="#a7a9ac" />
<circle cx="153.80" cy="509.10" r="1.8" fill="#a7a9ac" />
<circle cx="157.10" cy="513.00" r="1.8" fill="#a7a9ac" />
<circle cx="156.50" cy="516.90" r="1.8" fill="#a7a9ac" />
<circle cx="140.50" cy="501.50" r="1.8" fill="#a7a9ac" />
<circle cx="87.10" cy="462.80" r="2.0" fill="#0000f0" />
<circle cx="76.60" cy="467.40" r="2.0" fill="#0000f0" />
<circle cx="87.80" cy="471.70" r="2.0" fill="#0000f0" />
<circle cx="106.90" cy="468.90" r="2.0" fill="#0000f0" />
<circle cx="72.70" cy="476.60" r="2.0" fill="#0000f0" />
<circle cx="77.80" cy="475.50" r="2.0" fill="#0000f0" />
<circle cx="82.90" cy="478.10" r="2.0" fill="#0000f0" />
<circle cx="90.60" cy="479.40" r="2.0" fill="#0000f0" />
<circle cx="95.40" cy="479.40" r="2.0" fill="#0000f0" />
<circle cx="106.10" cy="477.60" r="2.0" fill="#0000f0" />
<circle cx="69.90" cy="483.20" r="2.0" fill="#0000f0" />
<circle cx="73.40" cy="481.00" r="2.0" fill="#0000f0" />
<circle cx="76.80" cy="484.20" r="2.0" fill="#0000f0" />
<circle cx="79.10" cy="483.60" r="2.0" fill="#0000f0" />
<circle cx="81.90" cy="484.20" r="2.0" fill="#0000f0" />
<circle cx="85.50" cy="481.70" r="2.0" fill="#0000f0" />
<circle cx="88.70" cy="483.60" r="2.0" fill="#0000f0" />
<circle cx="96.30" cy="484.50" r="2.0" fill="#0000f0" />
<circle cx="99.50" cy="484.80" r="2.0" fill="#0000f0" />
<circle cx="77.20" cy="487.40" r="2.0" fill="#0000f0" />
<circle cx="78.90" cy="492.50" r="2.0" fill="#0000f0" />
<circle cx="86.80" cy="491.00" r="2.0" fill="#0000f0" />
<circle cx="89.30" cy="491.60" r="2.0" fill="#0000f0" />
<circle cx="91.80" cy="489.00" r="2.0" fill="#0000f0" />
<circle cx="96.90" cy="489.00" r="2.0" fill="#0000f0" />
<circle cx="100.50" cy="489.90" r="2.0" fill="#0000f0" />
<circle cx="103.30" cy="489.00" r="2.0" fill="#0000f0" />
<circle cx="99.70" cy="493.40" r="2.0" fill="#0000f0" />
<circle cx="102.70" cy="492.90" r="2.0" fill="#0000f0" />
<circle cx="73.60" cy="419.30" r="2.0" fill="#0000f0" />
<circle cx="88.60" cy="436.30" r="2.0" fill="#0000f0" />
<circle cx="83.20" cy="451.30" r="2.0" fill="#0000f0" />
<circle cx="57.30" cy="468.80" r="2.0" fill="#0000f0" />
<line x1="72.10" y1="498.50" x2="79.10" y2="488.70" stroke="#0000f0" stroke-width="0.9" />
<line x1="102.00" y1="491.80" x2="109.70" y2="486.10" stroke="#0000f0" stroke-width="0.9" />
<text x="51.70" y="421.60" font-size="6.4" fill="#2b2bff" font-style="italic" textLength="18.00" lengthAdjust="spacingAndGlyphs">RBBP6</text>
<text x="74.50" y="434.20" font-size="6.4" fill="#2b2bff" font-style="italic" textLength="11.30" lengthAdjust="spacingAndGlyphs">APC</text>
<text x="65.20" y="449.70" font-size="6.4" fill="#2b2bff" font-style="italic" textLength="15.00" lengthAdjust="spacingAndGlyphs">DDR2</text>
<text x="42.00" y="467.50" font-size="6.4" fill="#2b2bff" font-style="italic" textLength="12.30" lengthAdjust="spacingAndGlyphs">IRF4</text>
<text x="45.90" y="501.60" font-size="6.4" fill="#2b2bff" font-style="italic" textLength="22.20" lengthAdjust="spacingAndGlyphs">CTNNB1</text>
<text x="101.60" y="485.90" font-size="6.4" fill="#2b2bff" font-style="italic" textLength="21.00" lengthAdjust="spacingAndGlyphs">NFE2L2</text>
<circle cx="133.20" cy="472.50" r="2.0" fill="#d8000f" />
<circle cx="151.40" cy="483.60" r="2.0" fill="#d8000f" />
<circle cx="154.80" cy="486.10" r="2.0" fill="#d8000f" />
<circle cx="131.00" cy="490.80" r="2.0" fill="#d8000f" />
<circle cx="140.60" cy="494.10" r="2.0" fill="#d8000f" />
<circle cx="146.60" cy="494.10" r="2.0" fill="#d8000f" />
<circle cx="172.80" cy="489.90" r="2.0" fill="#d8000f" />
<text x="128.90" y="469.60" font-size="6.4" fill="#e0202a" font-style="italic" textLength="22.50" lengthAdjust="spacingAndGlyphs">NOTCH1</text>
<text x="145.00" y="481.10" font-size="6.4" fill="#e0202a" font-style="italic" textLength="15.30" lengthAdjust="spacingAndGlyphs">AGO1</text>
<text x="156.50" y="485.80" font-size="6.4" fill="#e0202a" font-style="italic" textLength="17.20" lengthAdjust="spacingAndGlyphs">U2AF1</text>
<text x="125.30" y="489.20" font-size="6.4" fill="#e0202a" font-style="italic" textLength="22.90" lengthAdjust="spacingAndGlyphs">CDKN2A</text>
<text x="176.90" y="492.50" font-size="6.4" fill="#e0202a" font-style="italic" textLength="12.10" lengthAdjust="spacingAndGlyphs">XIAP</text>
<text x="225.90" y="408.40" font-size="11.2" font-weight="bold" textLength="3.67" lengthAdjust="spacingAndGlyphs">i</text>
<text x="285.10" y="411.00" font-size="9" textLength="113.80" lengthAdjust="spacingAndGlyphs">Proteins correlated with TBB</text>
<line x1="256.50" y1="419.40" x2="256.50" y2="532.60" stroke="#7b7c7e" stroke-width="1.0" />
<line x1="252.50" y1="532.50" x2="256.50" y2="532.50" stroke="#7b7c7e" stroke-width="1.0" />
<text x="248.50" y="535.20" font-size="7.5" text-anchor="end" fill="#231f20" textLength="4.80" lengthAdjust="spacingAndGlyphs">0</text>
<line x1="252.50" y1="509.50" x2="256.50" y2="509.50" stroke="#7b7c7e" stroke-width="1.0" />
<text x="248.50" y="512.56" font-size="7.5" text-anchor="end" fill="#231f20" textLength="4.80" lengthAdjust="spacingAndGlyphs">2</text>
<line x1="252.50" y1="487.50" x2="256.50" y2="487.50" stroke="#7b7c7e" stroke-width="1.0" />
<text x="248.50" y="489.92" font-size="7.5" text-anchor="end" fill="#231f20" textLength="4.80" lengthAdjust="spacingAndGlyphs">4</text>
<line x1="252.50" y1="464.50" x2="256.50" y2="464.50" stroke="#7b7c7e" stroke-width="1.0" />
<text x="248.50" y="467.28" font-size="7.5" text-anchor="end" fill="#231f20" textLength="4.80" lengthAdjust="spacingAndGlyphs">6</text>
<line x1="252.50" y1="442.50" x2="256.50" y2="442.50" stroke="#7b7c7e" stroke-width="1.0" />
<text x="248.50" y="444.64" font-size="7.5" text-anchor="end" fill="#231f20" textLength="4.80" lengthAdjust="spacingAndGlyphs">8</text>
<line x1="252.50" y1="419.50" x2="256.50" y2="419.50" stroke="#7b7c7e" stroke-width="1.0" />
<text x="248.50" y="422.00" font-size="7.5" text-anchor="end" fill="#231f20" textLength="9.59" lengthAdjust="spacingAndGlyphs">10</text>
<line x1="256.50" y1="532.50" x2="427.20" y2="532.50" stroke="#7b7c7e" stroke-width="1.0" />
<line x1="256.50" y1="532.60" x2="256.50" y2="536.20" stroke="#7b7c7e" stroke-width="1.0" />
<text x="256.70" y="547.00" font-size="7.5" text-anchor="middle" fill="#231f20" textLength="17.03" lengthAdjust="spacingAndGlyphs">−0.4</text>
<line x1="299.50" y1="532.60" x2="299.50" y2="536.20" stroke="#7b7c7e" stroke-width="1.0" />
<text x="299.30" y="547.00" font-size="7.5" text-anchor="middle" fill="#231f20" textLength="17.03" lengthAdjust="spacingAndGlyphs">−0.2</text>
<line x1="341.50" y1="532.60" x2="341.50" y2="536.20" stroke="#7b7c7e" stroke-width="1.0" />
<text x="341.90" y="547.00" font-size="7.5" text-anchor="middle" fill="#231f20" textLength="4.80" lengthAdjust="spacingAndGlyphs">0</text>
<line x1="384.50" y1="532.60" x2="384.50" y2="536.20" stroke="#7b7c7e" stroke-width="1.0" />
<text x="384.60" y="547.00" font-size="7.5" text-anchor="middle" fill="#231f20" textLength="11.99" lengthAdjust="spacingAndGlyphs">0.2</text>
<line x1="427.50" y1="532.60" x2="427.50" y2="536.20" stroke="#7b7c7e" stroke-width="1.0" />
<text x="427.20" y="547.00" font-size="7.5" text-anchor="middle" fill="#231f20" textLength="11.99" lengthAdjust="spacingAndGlyphs">0.4</text>
<text x="341.90" y="560.50" font-size="9" text-anchor="middle">Correlation with TBB</text>
<text x="0" y="0" font-size="9" transform="translate(233.00,475.50) rotate(-90)" text-anchor="middle">−log<tspan font-size="6.2" dy="1.8">10</tspan><tspan dy="-1.8" font-style="italic">P</tspan></text>
<line x1="260.20" y1="567.50" x2="424.20" y2="567.50" stroke="#3f5373" stroke-width="1.15" />
<path d="M257.20,567.50 L262.20,565.30 L260.95,567.50 L262.20,569.70 Z" fill="#3f5373" />
<path d="M427.20,567.50 L422.20,565.30 L423.45,567.50 L422.20,569.70 Z" fill="#3f5373" />
<text x="291.20" y="578.70" font-size="9" text-anchor="middle" fill="#2b2bff" textLength="86.00" lengthAdjust="spacingAndGlyphs">Negatively correlated</text>
<text x="291.00" y="588.80" font-size="9" text-anchor="middle" fill="#2b2bff">with TBB</text>
<text x="392.30" y="578.70" font-size="9" text-anchor="middle" fill="#e0202a">Positively correlated</text>
<text x="392.00" y="588.80" font-size="9" text-anchor="middle" fill="#e0202a">with TBB</text>
<circle cx="323.50" cy="520.56" r="2.0" fill="#a7a9ac" />
<circle cx="324.10" cy="521.14" r="2.0" fill="#a7a9ac" />
<circle cx="324.70" cy="521.70" r="2.0" fill="#a7a9ac" />
<circle cx="325.30" cy="522.25" r="2.0" fill="#a7a9ac" />
<circle cx="325.90" cy="522.80" r="2.0" fill="#a7a9ac" />
<circle cx="326.50" cy="523.33" r="2.0" fill="#a7a9ac" />
<circle cx="327.10" cy="523.86" r="2.0" fill="#a7a9ac" />
<circle cx="327.70" cy="524.37" r="2.0" fill="#a7a9ac" />
<circle cx="328.30" cy="524.88" r="2.0" fill="#a7a9ac" />
<circle cx="328.90" cy="525.37" r="2.0" fill="#a7a9ac" />
<circle cx="329.50" cy="525.85" r="2.0" fill="#a7a9ac" />
<circle cx="330.10" cy="526.32" r="2.0" fill="#a7a9ac" />
<circle cx="330.70" cy="526.78" r="2.0" fill="#a7a9ac" />
<circle cx="331.30" cy="527.22" r="2.0" fill="#a7a9ac" />
<circle cx="331.90" cy="527.66" r="2.0" fill="#a7a9ac" />
<circle cx="332.50" cy="528.08" r="2.0" fill="#a7a9ac" />
<circle cx="333.10" cy="528.48" r="2.0" fill="#a7a9ac" />
<circle cx="333.70" cy="528.88" r="2.0" fill="#a7a9ac" />
<circle cx="334.30" cy="529.26" r="2.0" fill="#a7a9ac" />
<circle cx="334.90" cy="529.62" r="2.0" fill="#a7a9ac" />
<circle cx="335.50" cy="529.97" r="2.0" fill="#a7a9ac" />
<circle cx="336.10" cy="530.30" r="2.0" fill="#a7a9ac" />
<circle cx="336.70" cy="530.62" r="2.0" fill="#a7a9ac" />
<circle cx="337.30" cy="530.92" r="2.0" fill="#a7a9ac" />
<circle cx="337.90" cy="531.20" r="2.0" fill="#a7a9ac" />
<circle cx="338.50" cy="531.46" r="2.0" fill="#a7a9ac" />
<circle cx="339.10" cy="531.70" r="2.0" fill="#a7a9ac" />
<circle cx="339.70" cy="531.91" r="2.0" fill="#a7a9ac" />
<circle cx="340.30" cy="532.10" r="2.0" fill="#a7a9ac" />
<circle cx="340.90" cy="532.25" r="2.0" fill="#a7a9ac" />
<circle cx="341.50" cy="532.36" r="2.0" fill="#a7a9ac" />
<circle cx="342.10" cy="532.39" r="2.0" fill="#a7a9ac" />
<circle cx="342.70" cy="532.29" r="2.0" fill="#a7a9ac" />
<circle cx="343.30" cy="532.15" r="2.0" fill="#a7a9ac" />
<circle cx="343.90" cy="531.98" r="2.0" fill="#a7a9ac" />
<circle cx="344.50" cy="531.77" r="2.0" fill="#a7a9ac" />
<circle cx="345.10" cy="531.54" r="2.0" fill="#a7a9ac" />
<circle cx="345.70" cy="531.29" r="2.0" fill="#a7a9ac" />
<circle cx="346.30" cy="531.02" r="2.0" fill="#a7a9ac" />
<circle cx="346.90" cy="530.72" r="2.0" fill="#a7a9ac" />
<circle cx="347.50" cy="530.41" r="2.0" fill="#a7a9ac" />
<circle cx="348.10" cy="530.08" r="2.0" fill="#a7a9ac" />
<circle cx="348.70" cy="529.74" r="2.0" fill="#a7a9ac" />
<circle cx="349.30" cy="529.38" r="2.0" fill="#a7a9ac" />
<circle cx="349.90" cy="529.01" r="2.0" fill="#a7a9ac" />
<circle cx="350.50" cy="528.62" r="2.0" fill="#a7a9ac" />
<circle cx="351.10" cy="528.21" r="2.0" fill="#a7a9ac" />
<circle cx="351.70" cy="527.80" r="2.0" fill="#a7a9ac" />
<circle cx="352.30" cy="527.37" r="2.0" fill="#a7a9ac" />
<circle cx="352.90" cy="526.93" r="2.0" fill="#a7a9ac" />
<circle cx="353.50" cy="526.47" r="2.0" fill="#a7a9ac" />
<circle cx="354.10" cy="526.01" r="2.0" fill="#a7a9ac" />
<circle cx="354.70" cy="525.53" r="2.0" fill="#a7a9ac" />
<circle cx="355.30" cy="525.04" r="2.0" fill="#a7a9ac" />
<circle cx="355.90" cy="524.54" r="2.0" fill="#a7a9ac" />
<circle cx="356.50" cy="524.03" r="2.0" fill="#a7a9ac" />
<circle cx="357.10" cy="523.51" r="2.0" fill="#a7a9ac" />
<circle cx="357.70" cy="522.98" r="2.0" fill="#a7a9ac" />
<circle cx="358.30" cy="522.44" r="2.0" fill="#a7a9ac" />
<circle cx="358.90" cy="521.89" r="2.0" fill="#a7a9ac" />
<circle cx="359.50" cy="521.32" r="2.0" fill="#a7a9ac" />
<circle cx="329.77" cy="528.47" r="1.8" fill="#a7a9ac" />
<circle cx="346.22" cy="532.30" r="1.8" fill="#a7a9ac" />
<circle cx="331.56" cy="530.15" r="1.8" fill="#a7a9ac" />
<circle cx="352.27" cy="529.23" r="1.8" fill="#a7a9ac" />
<circle cx="341.68" cy="532.30" r="1.8" fill="#a7a9ac" />
<circle cx="324.11" cy="522.53" r="1.8" fill="#a7a9ac" />
<circle cx="344.49" cy="532.20" r="1.8" fill="#a7a9ac" />
<circle cx="351.78" cy="528.68" r="1.8" fill="#a7a9ac" />
<circle cx="332.14" cy="528.16" r="1.8" fill="#a7a9ac" />
<circle cx="358.91" cy="524.44" r="1.8" fill="#a7a9ac" />
<circle cx="354.63" cy="527.76" r="1.8" fill="#a7a9ac" />
<circle cx="325.19" cy="523.41" r="1.8" fill="#a7a9ac" />
<circle cx="341.41" cy="532.30" r="1.8" fill="#a7a9ac" />
<circle cx="357.32" cy="524.70" r="1.8" fill="#a7a9ac" />
<circle cx="329.42" cy="528.60" r="1.8" fill="#a7a9ac" />
<circle cx="328.37" cy="528.10" r="1.8" fill="#a7a9ac" />
<circle cx="339.86" cy="532.30" r="1.8" fill="#a7a9ac" />
<circle cx="336.00" cy="532.00" r="1.8" fill="#a7a9ac" />
<circle cx="330.54" cy="526.98" r="1.8" fill="#a7a9ac" />
<circle cx="354.31" cy="526.80" r="1.8" fill="#a7a9ac" />
<circle cx="351.31" cy="528.94" r="1.8" fill="#a7a9ac" />
<circle cx="357.91" cy="525.85" r="1.8" fill="#a7a9ac" />
<circle cx="350.42" cy="531.31" r="1.8" fill="#a7a9ac" />
<circle cx="344.33" cy="532.30" r="1.8" fill="#a7a9ac" />
<circle cx="328.29" cy="526.59" r="1.8" fill="#a7a9ac" />
<circle cx="352.95" cy="527.74" r="1.8" fill="#a7a9ac" />
<circle cx="356.31" cy="527.23" r="1.8" fill="#a7a9ac" />
<circle cx="338.34" cy="532.30" r="1.8" fill="#a7a9ac" />
<circle cx="339.80" cy="532.30" r="1.8" fill="#a7a9ac" />
<circle cx="358.82" cy="523.40" r="1.8" fill="#a7a9ac" />
<circle cx="324.94" cy="522.42" r="1.8" fill="#a7a9ac" />
<circle cx="349.13" cy="532.30" r="1.8" fill="#a7a9ac" />
<circle cx="341.36" cy="532.30" r="1.8" fill="#a7a9ac" />
<circle cx="343.27" cy="532.30" r="1.8" fill="#a7a9ac" />
<circle cx="331.77" cy="529.71" r="1.8" fill="#a7a9ac" />
<circle cx="343.48" cy="532.30" r="1.8" fill="#a7a9ac" />
<circle cx="330.32" cy="527.24" r="1.8" fill="#a7a9ac" />
<circle cx="336.19" cy="532.30" r="1.8" fill="#a7a9ac" />
<circle cx="336.13" cy="532.30" r="1.8" fill="#a7a9ac" />
<circle cx="334.73" cy="530.05" r="1.8" fill="#a7a9ac" />
<circle cx="326.30" cy="525.96" r="1.8" fill="#a7a9ac" />
<circle cx="351.20" cy="529.55" r="1.8" fill="#a7a9ac" />
<circle cx="347.92" cy="532.30" r="1.8" fill="#a7a9ac" />
<circle cx="355.45" cy="528.18" r="1.8" fill="#a7a9ac" />
<circle cx="338.25" cy="532.30" r="1.8" fill="#a7a9ac" />
<circle cx="357.65" cy="525.11" r="1.8" fill="#a7a9ac" />
<circle cx="354.91" cy="527.13" r="1.8" fill="#a7a9ac" />
<circle cx="337.14" cy="531.84" r="1.8" fill="#a7a9ac" />
<circle cx="354.67" cy="526.28" r="1.8" fill="#a7a9ac" />
<circle cx="326.43" cy="526.05" r="1.8" fill="#a7a9ac" />
<circle cx="351.09" cy="529.97" r="1.8" fill="#a7a9ac" />
<circle cx="353.29" cy="527.00" r="1.8" fill="#a7a9ac" />
<circle cx="333.03" cy="529.56" r="1.8" fill="#a7a9ac" />
<circle cx="338.68" cy="532.28" r="1.8" fill="#a7a9ac" />
<circle cx="326.43" cy="524.56" r="1.8" fill="#a7a9ac" />
<circle cx="355.47" cy="528.25" r="1.8" fill="#a7a9ac" />
<circle cx="350.10" cy="530.61" r="1.8" fill="#a7a9ac" />
<circle cx="332.83" cy="531.57" r="1.8" fill="#a7a9ac" />
<circle cx="342.40" cy="532.30" r="1.8" fill="#a7a9ac" />
<circle cx="324.99" cy="522.85" r="1.8" fill="#a7a9ac" />
<circle cx="289.50" cy="475.70" r="1.85" fill="#0000f0" />
<circle cx="289.95" cy="476.43" r="1.85" fill="#0000f0" />
<circle cx="290.40" cy="477.16" r="1.85" fill="#0000f0" />
<circle cx="290.85" cy="477.89" r="1.85" fill="#0000f0" />
<circle cx="291.30" cy="478.61" r="1.85" fill="#0000f0" />
<circle cx="291.75" cy="479.33" r="1.85" fill="#0000f0" />
<circle cx="292.20" cy="480.04" r="1.85" fill="#0000f0" />
<circle cx="292.65" cy="480.76" r="1.85" fill="#0000f0" />
<circle cx="293.10" cy="481.46" r="1.85" fill="#0000f0" />
<circle cx="293.55" cy="482.17" r="1.85" fill="#0000f0" />
<circle cx="294.00" cy="482.87" r="1.85" fill="#0000f0" />
<circle cx="294.45" cy="483.57" r="1.85" fill="#0000f0" />
<circle cx="294.90" cy="484.27" r="1.85" fill="#0000f0" />
<circle cx="295.35" cy="484.96" r="1.85" fill="#0000f0" />
<circle cx="295.80" cy="485.65" r="1.85" fill="#0000f0" />
<circle cx="296.25" cy="486.34" r="1.85" fill="#0000f0" />
<circle cx="296.70" cy="487.02" r="1.85" fill="#0000f0" />
<circle cx="297.15" cy="487.70" r="1.85" fill="#0000f0" />
<circle cx="297.60" cy="488.37" r="1.85" fill="#0000f0" />
<circle cx="298.05" cy="489.04" r="1.85" fill="#0000f0" />
<circle cx="298.50" cy="489.71" r="1.85" fill="#0000f0" />
<circle cx="298.95" cy="490.38" r="1.85" fill="#0000f0" />
<circle cx="299.40" cy="491.04" r="1.85" fill="#0000f0" />
<circle cx="299.85" cy="491.70" r="1.85" fill="#0000f0" />
<circle cx="300.30" cy="492.35" r="1.85" fill="#0000f0" />
<circle cx="300.75" cy="493.00" r="1.85" fill="#0000f0" />
<circle cx="301.20" cy="493.65" r="1.85" fill="#0000f0" />
<circle cx="301.65" cy="494.30" r="1.85" fill="#0000f0" />
<circle cx="302.10" cy="494.94" r="1.85" fill="#0000f0" />
<circle cx="302.55" cy="495.57" r="1.85" fill="#0000f0" />
<circle cx="303.00" cy="496.21" r="1.85" fill="#0000f0" />
<circle cx="303.45" cy="496.84" r="1.85" fill="#0000f0" />
<circle cx="303.90" cy="497.46" r="1.85" fill="#0000f0" />
<circle cx="304.35" cy="498.09" r="1.85" fill="#0000f0" />
<circle cx="304.80" cy="498.70" r="1.85" fill="#0000f0" />
<circle cx="305.25" cy="499.32" r="1.85" fill="#0000f0" />
<circle cx="305.70" cy="499.93" r="1.85" fill="#0000f0" />
<circle cx="306.15" cy="500.54" r="1.85" fill="#0000f0" />
<circle cx="306.60" cy="501.14" r="1.85" fill="#0000f0" />
<circle cx="307.05" cy="501.74" r="1.85" fill="#0000f0" />
<circle cx="307.50" cy="502.34" r="1.85" fill="#0000f0" />
<circle cx="307.95" cy="502.93" r="1.85" fill="#0000f0" />
<circle cx="308.40" cy="503.52" r="1.85" fill="#0000f0" />
<circle cx="308.85" cy="504.10" r="1.85" fill="#0000f0" />
<circle cx="309.30" cy="504.68" r="1.85" fill="#0000f0" />
<circle cx="309.75" cy="505.26" r="1.85" fill="#0000f0" />
<circle cx="310.20" cy="505.83" r="1.85" fill="#0000f0" />
<circle cx="310.65" cy="506.40" r="1.85" fill="#0000f0" />
<circle cx="311.10" cy="506.96" r="1.85" fill="#0000f0" />
<circle cx="311.55" cy="507.52" r="1.85" fill="#0000f0" />
<circle cx="312.00" cy="508.08" r="1.85" fill="#0000f0" />
<circle cx="312.45" cy="508.63" r="1.85" fill="#0000f0" />
<circle cx="312.90" cy="509.17" r="1.85" fill="#0000f0" />
<circle cx="313.35" cy="509.72" r="1.85" fill="#0000f0" />
<circle cx="313.80" cy="510.26" r="1.85" fill="#0000f0" />
<circle cx="314.25" cy="510.79" r="1.85" fill="#0000f0" />
<circle cx="314.70" cy="511.32" r="1.85" fill="#0000f0" />
<circle cx="315.15" cy="511.85" r="1.85" fill="#0000f0" />
<circle cx="315.60" cy="512.37" r="1.85" fill="#0000f0" />
<circle cx="316.05" cy="512.89" r="1.85" fill="#0000f0" />
<circle cx="316.50" cy="513.40" r="1.85" fill="#0000f0" />
<circle cx="316.95" cy="513.91" r="1.85" fill="#0000f0" />
<circle cx="317.40" cy="514.41" r="1.85" fill="#0000f0" />
<circle cx="317.85" cy="514.91" r="1.85" fill="#0000f0" />
<circle cx="318.30" cy="515.40" r="1.85" fill="#0000f0" />
<circle cx="318.75" cy="515.89" r="1.85" fill="#0000f0" />
<circle cx="319.20" cy="516.38" r="1.85" fill="#0000f0" />
<circle cx="319.65" cy="516.86" r="1.85" fill="#0000f0" />
<circle cx="320.10" cy="517.33" r="1.85" fill="#0000f0" />
<circle cx="320.55" cy="517.80" r="1.85" fill="#0000f0" />
<circle cx="321.00" cy="518.27" r="1.85" fill="#0000f0" />
<circle cx="321.45" cy="518.73" r="1.85" fill="#0000f0" />
<circle cx="321.90" cy="519.18" r="1.85" fill="#0000f0" />
<circle cx="322.35" cy="519.63" r="1.85" fill="#0000f0" />
<circle cx="322.80" cy="520.08" r="1.85" fill="#0000f0" />
<circle cx="323.25" cy="520.52" r="1.85" fill="#0000f0" />
<circle cx="323.70" cy="520.95" r="1.85" fill="#0000f0" />
<circle cx="359.50" cy="521.52" r="1.85" fill="#d8000f" />
<circle cx="359.95" cy="521.10" r="1.85" fill="#d8000f" />
<circle cx="360.40" cy="520.66" r="1.85" fill="#d8000f" />
<circle cx="360.85" cy="520.23" r="1.85" fill="#d8000f" />
<circle cx="361.30" cy="519.78" r="1.85" fill="#d8000f" />
<circle cx="361.75" cy="519.33" r="1.85" fill="#d8000f" />
<circle cx="362.20" cy="518.88" r="1.85" fill="#d8000f" />
<circle cx="362.65" cy="518.42" r="1.85" fill="#d8000f" />
<circle cx="363.10" cy="517.96" r="1.85" fill="#d8000f" />
<circle cx="363.55" cy="517.49" r="1.85" fill="#d8000f" />
<circle cx="364.00" cy="517.02" r="1.85" fill="#d8000f" />
<circle cx="364.45" cy="516.54" r="1.85" fill="#d8000f" />
<circle cx="364.90" cy="516.05" r="1.85" fill="#d8000f" />
<circle cx="365.35" cy="515.57" r="1.85" fill="#d8000f" />
<circle cx="365.80" cy="515.07" r="1.85" fill="#d8000f" />
<circle cx="366.25" cy="514.58" r="1.85" fill="#d8000f" />
<circle cx="366.70" cy="514.07" r="1.85" fill="#d8000f" />
<circle cx="367.15" cy="513.57" r="1.85" fill="#d8000f" />
<circle cx="367.60" cy="513.06" r="1.85" fill="#d8000f" />
<circle cx="368.05" cy="512.54" r="1.85" fill="#d8000f" />
<circle cx="368.50" cy="512.02" r="1.85" fill="#d8000f" />
<circle cx="368.95" cy="511.50" r="1.85" fill="#d8000f" />
<circle cx="369.40" cy="510.97" r="1.85" fill="#d8000f" />
<circle cx="369.85" cy="510.44" r="1.85" fill="#d8000f" />
<circle cx="370.30" cy="509.90" r="1.85" fill="#d8000f" />
<circle cx="370.75" cy="509.36" r="1.85" fill="#d8000f" />
<circle cx="371.20" cy="508.81" r="1.85" fill="#d8000f" />
<circle cx="371.65" cy="508.26" r="1.85" fill="#d8000f" />
<circle cx="372.10" cy="507.71" r="1.85" fill="#d8000f" />
<circle cx="372.55" cy="507.15" r="1.85" fill="#d8000f" />
<circle cx="373.00" cy="506.58" r="1.85" fill="#d8000f" />
<circle cx="373.45" cy="506.02" r="1.85" fill="#d8000f" />
<circle cx="373.90" cy="505.45" r="1.85" fill="#d8000f" />
<circle cx="374.35" cy="504.87" r="1.85" fill="#d8000f" />
<circle cx="374.80" cy="504.29" r="1.85" fill="#d8000f" />
<circle cx="375.25" cy="503.71" r="1.85" fill="#d8000f" />
<circle cx="375.70" cy="503.12" r="1.85" fill="#d8000f" />
<circle cx="376.15" cy="502.53" r="1.85" fill="#d8000f" />
<circle cx="376.60" cy="501.94" r="1.85" fill="#d8000f" />
<circle cx="377.05" cy="501.34" r="1.85" fill="#d8000f" />
<circle cx="377.50" cy="500.74" r="1.85" fill="#d8000f" />
<circle cx="377.95" cy="500.13" r="1.85" fill="#d8000f" />
<circle cx="378.40" cy="499.52" r="1.85" fill="#d8000f" />
<circle cx="378.85" cy="498.91" r="1.85" fill="#d8000f" />
<circle cx="379.30" cy="498.29" r="1.85" fill="#d8000f" />
<circle cx="379.75" cy="497.67" r="1.85" fill="#d8000f" />
<circle cx="380.20" cy="497.05" r="1.85" fill="#d8000f" />
<circle cx="380.65" cy="496.42" r="1.85" fill="#d8000f" />
<circle cx="381.10" cy="495.79" r="1.85" fill="#d8000f" />
<circle cx="381.55" cy="495.15" r="1.85" fill="#d8000f" />
<circle cx="382.00" cy="494.51" r="1.85" fill="#d8000f" />
<circle cx="382.45" cy="493.87" r="1.85" fill="#d8000f" />
<circle cx="382.90" cy="493.22" r="1.85" fill="#d8000f" />
<circle cx="383.35" cy="492.57" r="1.85" fill="#d8000f" />
<circle cx="383.80" cy="491.92" r="1.85" fill="#d8000f" />
<circle cx="384.25" cy="491.26" r="1.85" fill="#d8000f" />
<circle cx="384.70" cy="490.60" r="1.85" fill="#d8000f" />
<circle cx="385.15" cy="489.94" r="1.85" fill="#d8000f" />
<circle cx="385.60" cy="489.27" r="1.85" fill="#d8000f" />
<circle cx="386.00" cy="488.67" r="2.0" fill="#d8000f" />
<circle cx="386.44" cy="487.73" r="2.0" fill="#d8000f" />
<circle cx="386.88" cy="486.80" r="2.0" fill="#d8000f" />
<circle cx="387.32" cy="485.86" r="2.0" fill="#d8000f" />
<circle cx="387.76" cy="484.92" r="2.0" fill="#d8000f" />
<circle cx="388.20" cy="483.99" r="2.0" fill="#d8000f" />
<circle cx="388.64" cy="483.05" r="2.0" fill="#d8000f" />
<circle cx="389.08" cy="482.11" r="2.0" fill="#d8000f" />
<circle cx="389.52" cy="481.17" r="2.0" fill="#d8000f" />
<circle cx="389.96" cy="480.24" r="2.0" fill="#d8000f" />
<circle cx="390.40" cy="479.30" r="2.0" fill="#d8000f" />
<circle cx="390.76" cy="478.52" r="2.0" fill="#d8000f" />
<circle cx="391.12" cy="477.74" r="2.0" fill="#d8000f" />
<circle cx="391.48" cy="476.96" r="2.0" fill="#d8000f" />
<circle cx="391.84" cy="476.18" r="2.0" fill="#d8000f" />
<circle cx="392.20" cy="475.40" r="2.0" fill="#d8000f" />
<circle cx="392.56" cy="474.62" r="2.0" fill="#d8000f" />
<circle cx="392.92" cy="473.84" r="2.0" fill="#d8000f" />
<circle cx="393.28" cy="473.06" r="2.0" fill="#d8000f" />
<circle cx="393.64" cy="472.28" r="2.0" fill="#d8000f" />
<circle cx="394.00" cy="471.50" r="2.0" fill="#d8000f" />
<circle cx="394.22" cy="471.15" r="2.0" fill="#d8000f" />
<circle cx="394.44" cy="470.80" r="2.0" fill="#d8000f" />
<circle cx="394.66" cy="470.45" r="2.0" fill="#d8000f" />
<circle cx="394.88" cy="470.10" r="2.0" fill="#d8000f" />
<circle cx="395.10" cy="469.75" r="2.0" fill="#d8000f" />
<circle cx="395.32" cy="469.40" r="2.0" fill="#d8000f" />
<circle cx="395.54" cy="469.05" r="2.0" fill="#d8000f" />
<circle cx="395.76" cy="468.70" r="2.0" fill="#d8000f" />
<circle cx="395.98" cy="468.35" r="2.0" fill="#d8000f" />
<circle cx="259.80" cy="441.70" r="2.2" fill="#0000f0" />
<circle cx="278.40" cy="446.00" r="2.2" fill="#0000f0" />
<circle cx="280.10" cy="447.60" r="2.2" fill="#0000f0" />
<circle cx="280.80" cy="452.70" r="2.2" fill="#0000f0" />
<circle cx="282.50" cy="455.30" r="2.2" fill="#0000f0" />
<circle cx="282.20" cy="457.00" r="2.2" fill="#0000f0" />
<circle cx="285.20" cy="463.40" r="2.2" fill="#0000f0" />
<circle cx="289.80" cy="473.10" r="2.2" fill="#0000f0" />
<circle cx="295.20" cy="500.60" r="2.2" fill="#0000f0" />
<circle cx="311.90" cy="517.30" r="2.2" fill="#0000f0" />
<circle cx="398.00" cy="461.80" r="2.2" fill="#d8000f" />
<circle cx="401.00" cy="454.50" r="2.2" fill="#d8000f" />
<circle cx="405.90" cy="441.30" r="2.2" fill="#d8000f" />
<circle cx="408.80" cy="436.80" r="2.2" fill="#d8000f" />
<circle cx="393.00" cy="495.20" r="2.2" fill="#d8000f" />
<text x="257.90" y="437.70" font-size="6.4" fill="#2b2bff" textLength="48.20" lengthAdjust="spacingAndGlyphs">SYNAPTOPHYSIN</text>
<text x="285.00" y="459.30" font-size="6.4" fill="#2b2bff" textLength="17.00" lengthAdjust="spacingAndGlyphs">BCL-2</text>
<text x="412.70" y="439.20" font-size="6.4" fill="#e0202a" textLength="14.00" lengthAdjust="spacingAndGlyphs">Cox2</text>
<text x="409.70" y="445.10" font-size="6.4" fill="#e0202a" textLength="15.30" lengthAdjust="spacingAndGlyphs">PKCα</text>
<text x="405.00" y="457.00" font-size="6.4" fill="#e0202a" textLength="21.00" lengthAdjust="spacingAndGlyphs">BCL2A1</text>
<text x="400.60" y="468.40" font-size="6.4" fill="#e0202a" textLength="13.10" lengthAdjust="spacingAndGlyphs">FN14</text>
<text x="398.00" y="474.50" font-size="6.4" fill="#e0202a" textLength="9.60" lengthAdjust="spacingAndGlyphs">MIF</text>
<text x="394.50" y="481.90" font-size="6.4" fill="#e0202a" textLength="17.30" lengthAdjust="spacingAndGlyphs">EphA2</text>
<text x="350.10" y="476.60" font-size="6.4" fill="#e0202a" textLength="37.70" lengthAdjust="spacingAndGlyphs">EphA2_pS897</text>
<text x="334.60" y="494.80" font-size="6.4" fill="#e0202a" textLength="42.60" lengthAdjust="spacingAndGlyphs">Notch1.cleaved</text>
<text x="456.40" y="408.50" font-size="11.2" font-weight="bold" textLength="3.67" lengthAdjust="spacingAndGlyphs">j</text>
<text x="511.20" y="411.00" font-size="9" textLength="120.90" lengthAdjust="spacingAndGlyphs">Gene sets correlated with TBB</text>
<line x1="486.50" y1="418.40" x2="486.50" y2="532.40" stroke="#7b7c7e" stroke-width="1.0" />
<line x1="482.60" y1="532.50" x2="486.60" y2="532.50" stroke="#7b7c7e" stroke-width="1.0" />
<text x="477.80" y="535.00" font-size="7.5" text-anchor="end" fill="#231f20" textLength="4.80" lengthAdjust="spacingAndGlyphs">0</text>
<line x1="482.60" y1="503.50" x2="486.60" y2="503.50" stroke="#7b7c7e" stroke-width="1.0" />
<text x="477.80" y="506.50" font-size="7.5" text-anchor="end" fill="#231f20" textLength="4.80" lengthAdjust="spacingAndGlyphs">2</text>
<line x1="482.60" y1="475.50" x2="486.60" y2="475.50" stroke="#7b7c7e" stroke-width="1.0" />
<text x="477.80" y="478.00" font-size="7.5" text-anchor="end" fill="#231f20" textLength="4.80" lengthAdjust="spacingAndGlyphs">4</text>
<line x1="482.60" y1="446.50" x2="486.60" y2="446.50" stroke="#7b7c7e" stroke-width="1.0" />
<text x="477.80" y="449.50" font-size="7.5" text-anchor="end" fill="#231f20" textLength="4.80" lengthAdjust="spacingAndGlyphs">6</text>
<line x1="482.60" y1="418.50" x2="486.60" y2="418.50" stroke="#7b7c7e" stroke-width="1.0" />
<text x="477.80" y="421.00" font-size="7.5" text-anchor="end" fill="#231f20" textLength="4.80" lengthAdjust="spacingAndGlyphs">8</text>
<line x1="486.60" y1="532.50" x2="657.00" y2="532.50" stroke="#7b7c7e" stroke-width="1.0" />
<line x1="486.50" y1="532.40" x2="486.50" y2="536.00" stroke="#7b7c7e" stroke-width="1.0" />
<text x="486.70" y="546.60" font-size="7.5" text-anchor="middle" fill="#231f20" textLength="14.63" lengthAdjust="spacingAndGlyphs">−15</text>
<line x1="515.50" y1="532.40" x2="515.50" y2="536.00" stroke="#7b7c7e" stroke-width="1.0" />
<text x="515.10" y="546.60" font-size="7.5" text-anchor="middle" fill="#231f20" textLength="14.63" lengthAdjust="spacingAndGlyphs">−10</text>
<line x1="543.50" y1="532.40" x2="543.50" y2="536.00" stroke="#7b7c7e" stroke-width="1.0" />
<text x="543.50" y="546.60" font-size="7.5" text-anchor="middle" fill="#231f20" textLength="9.83" lengthAdjust="spacingAndGlyphs">−5</text>
<line x1="571.50" y1="532.40" x2="571.50" y2="536.00" stroke="#7b7c7e" stroke-width="1.0" />
<text x="571.90" y="546.60" font-size="7.5" text-anchor="middle" fill="#231f20" textLength="4.80" lengthAdjust="spacingAndGlyphs">0</text>
<line x1="600.50" y1="532.40" x2="600.50" y2="536.00" stroke="#7b7c7e" stroke-width="1.0" />
<text x="600.20" y="546.60" font-size="7.5" text-anchor="middle" fill="#231f20" textLength="4.80" lengthAdjust="spacingAndGlyphs">5</text>
<line x1="628.50" y1="532.40" x2="628.50" y2="536.00" stroke="#7b7c7e" stroke-width="1.0" />
<text x="628.50" y="546.60" font-size="7.5" text-anchor="middle" fill="#231f20" textLength="9.59" lengthAdjust="spacingAndGlyphs">10</text>
<line x1="657.50" y1="532.40" x2="657.50" y2="536.00" stroke="#7b7c7e" stroke-width="1.0" />
<text x="657.00" y="546.60" font-size="7.5" text-anchor="middle" fill="#231f20" textLength="9.59" lengthAdjust="spacingAndGlyphs">15</text>
<text x="516.00" y="560.00" font-size="9" textLength="111.50" lengthAdjust="spacingAndGlyphs">Net enrichment score (NES)</text>
<text x="0" y="0" font-size="9" transform="translate(464.20,475.50) rotate(-90)" text-anchor="middle">−log<tspan font-size="6.2" dy="1.8">10</tspan><tspan dy="-1.8" font-style="italic">P</tspan></text>
<line x1="490.20" y1="567.50" x2="654.60" y2="567.50" stroke="#3f5373" stroke-width="1.15" />
<path d="M487.20,567.50 L492.20,565.30 L490.95,567.50 L492.20,569.70 Z" fill="#3f5373" />
<path d="M657.60,567.50 L652.60,565.30 L653.85,567.50 L652.60,569.70 Z" fill="#3f5373" />
<text x="517.00" y="578.70" font-size="9" text-anchor="middle" fill="#2b2bff" textLength="86.00" lengthAdjust="spacingAndGlyphs">Negatively correlated</text>
<text x="517.20" y="588.80" font-size="9" text-anchor="middle" fill="#2b2bff">with TBB</text>
<text x="621.00" y="578.70" font-size="9" text-anchor="middle" fill="#e0202a">Positively correlated</text>
<text x="620.90" y="588.80" font-size="9" text-anchor="middle" fill="#e0202a">with TBB</text>
<circle cx="562.70" cy="519.10" r="2.4" fill="#a7a9ac" />
<circle cx="564.90" cy="520.70" r="2.4" fill="#a7a9ac" />
<circle cx="565.50" cy="522.00" r="2.4" fill="#a7a9ac" />
<circle cx="569.30" cy="527.30" r="2.4" fill="#a7a9ac" />
<circle cx="571.50" cy="529.50" r="2.4" fill="#a7a9ac" />
<circle cx="573.80" cy="528.60" r="2.4" fill="#a7a9ac" />
<circle cx="574.30" cy="527.30" r="2.4" fill="#a7a9ac" />
<circle cx="576.50" cy="522.90" r="2.4" fill="#a7a9ac" />
<circle cx="578.20" cy="520.70" r="2.4" fill="#a7a9ac" />
<circle cx="577.30" cy="524.50" r="2.4" fill="#a7a9ac" />
<circle cx="582.00" cy="515.80" r="2.4" fill="#a7a9ac" />
<circle cx="583.10" cy="513.60" r="2.4" fill="#a7a9ac" />
<circle cx="581.00" cy="517.50" r="2.4" fill="#a7a9ac" />
<circle cx="604.00" cy="440.00" r="2.4" fill="#d8000f" />
<circle cx="606.40" cy="440.00" r="2.4" fill="#d8000f" />
<circle cx="609.20" cy="440.00" r="2.4" fill="#d8000f" />
<circle cx="610.70" cy="440.00" r="2.4" fill="#d8000f" />
<circle cx="615.70" cy="440.00" r="2.4" fill="#d8000f" />
<circle cx="618.20" cy="440.00" r="2.4" fill="#d8000f" />
<circle cx="623.20" cy="440.00" r="2.4" fill="#d8000f" />
<circle cx="602.10" cy="447.10" r="2.4" fill="#d8000f" />
<circle cx="599.50" cy="453.00" r="2.4" fill="#d8000f" />
<circle cx="599.50" cy="455.80" r="2.4" fill="#d8000f" />
<circle cx="599.10" cy="472.00" r="2.4" fill="#d8000f" />
<circle cx="595.20" cy="474.40" r="2.4" fill="#d8000f" />
<circle cx="597.40" cy="475.50" r="2.4" fill="#d8000f" />
<circle cx="594.10" cy="481.60" r="2.4" fill="#d8000f" />
<circle cx="596.30" cy="480.50" r="2.4" fill="#d8000f" />
<circle cx="592.50" cy="489.30" r="2.4" fill="#d8000f" />
<circle cx="589.70" cy="493.70" r="2.4" fill="#d8000f" />
<circle cx="588.60" cy="495.90" r="2.4" fill="#d8000f" />
<circle cx="589.20" cy="501.40" r="2.4" fill="#d8000f" />
<circle cx="588.10" cy="503.10" r="2.4" fill="#d8000f" />
<circle cx="588.10" cy="508.00" r="2.4" fill="#d8000f" />
<circle cx="584.80" cy="508.60" r="2.4" fill="#d8000f" />
<circle cx="582.60" cy="510.20" r="2.4" fill="#d8000f" />
<circle cx="586.50" cy="509.00" r="2.4" fill="#d8000f" />
<circle cx="540.00" cy="440.30" r="2.4" fill="#0000f0" />
<circle cx="543.60" cy="459.60" r="2.4" fill="#0000f0" />
<text x="487.90" y="438.10" font-size="6.4" fill="#2b2bff" textLength="50.00" lengthAdjust="spacingAndGlyphs">Allograft rejection</text>
<text x="509.80" y="457.90" font-size="6.4" fill="#2b2bff" textLength="30.20" lengthAdjust="spacingAndGlyphs">E2F targets</text>
<text x="537.50" y="433.70" font-size="6.4" fill="#e0202a" textLength="74.50" lengthAdjust="spacingAndGlyphs">Unfolded protein response</text>
<text x="600.00" y="427.60" font-size="6.4" fill="#e0202a" textLength="64.90" lengthAdjust="spacingAndGlyphs">TNF signaling via NF-κB</text>
<text x="627.20" y="441.80" font-size="6.4" fill="#e0202a" textLength="33.80" lengthAdjust="spacingAndGlyphs">MYC targets</text>
<text x="612.00" y="454.70" font-size="6.4" fill="#e0202a" textLength="11.70" lengthAdjust="spacingAndGlyphs">EMT</text>
<text x="597.40" y="490.90" font-size="6.4" fill="#e0202a" textLength="63.50" lengthAdjust="spacingAndGlyphs">Inflammatory response</text>
<text x="594.60" y="497.40" font-size="6.4" fill="#e0202a" textLength="60.20" lengthAdjust="spacingAndGlyphs">Interferon-α response</text>
<line x1="609.20" y1="434.00" x2="609.60" y2="438.50" stroke="#d8000f" stroke-width="1.1" />
<line x1="624.50" y1="431.50" x2="619.50" y2="439.00" stroke="#d8000f" stroke-width="1.1" />
<line x1="605.80" y1="441.40" x2="614.40" y2="449.30" stroke="#d8000f" stroke-width="1.1" />
</svg></body></html>
